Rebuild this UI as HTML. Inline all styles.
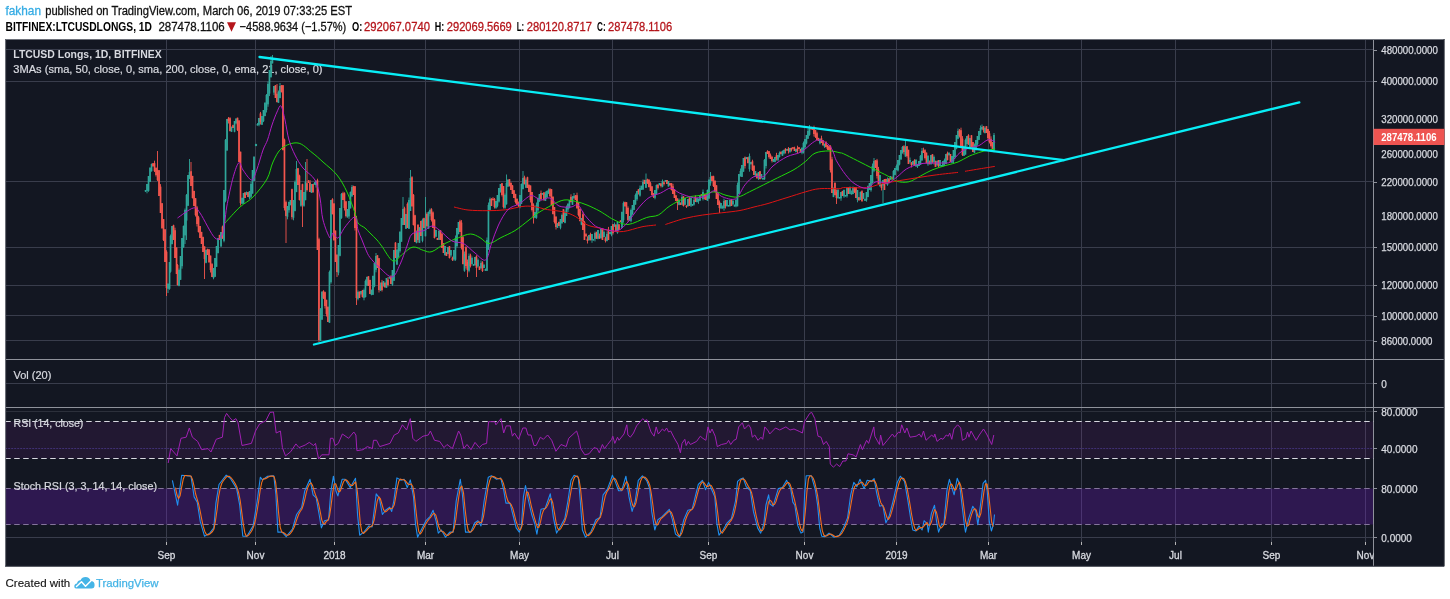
<!DOCTYPE html>
<html><head><meta charset="utf-8"><title>LTCUSD Longs</title>
<style>
html,body{margin:0;padding:0;background:#fff;}
body{width:1450px;height:599px;overflow:hidden;font-family:"Liberation Sans",sans-serif;}
svg{display:block;font-family:"Liberation Sans",sans-serif;filter:blur(0.4px);}
</style></head><body>
<svg width="1450" height="599" viewBox="0 0 1450 599">
<rect x="0" y="0" width="1450" height="599" fill="#fff"/>
<rect x="5.2" y="39.0" width="1439.2" height="527.5" fill="#131722"/>
<line x1="166.5" y1="39.0" x2="166.5" y2="542" stroke="#393d4c" stroke-width="1"/>
<line x1="166.5" y1="542" x2="166.5" y2="545" stroke="#b4b4b4" stroke-width="1"/>
<line x1="255.5" y1="39.0" x2="255.5" y2="542" stroke="#393d4c" stroke-width="1"/>
<line x1="255.5" y1="542" x2="255.5" y2="545" stroke="#b4b4b4" stroke-width="1"/>
<line x1="334.5" y1="39.0" x2="334.5" y2="542" stroke="#393d4c" stroke-width="1"/>
<line x1="334.5" y1="542" x2="334.5" y2="545" stroke="#b4b4b4" stroke-width="1"/>
<line x1="425.5" y1="39.0" x2="425.5" y2="542" stroke="#393d4c" stroke-width="1"/>
<line x1="425.5" y1="542" x2="425.5" y2="545" stroke="#b4b4b4" stroke-width="1"/>
<line x1="519.5" y1="39.0" x2="519.5" y2="542" stroke="#393d4c" stroke-width="1"/>
<line x1="519.5" y1="542" x2="519.5" y2="545" stroke="#b4b4b4" stroke-width="1"/>
<line x1="612.5" y1="39.0" x2="612.5" y2="542" stroke="#393d4c" stroke-width="1"/>
<line x1="612.5" y1="542" x2="612.5" y2="545" stroke="#b4b4b4" stroke-width="1"/>
<line x1="708.5" y1="39.0" x2="708.5" y2="542" stroke="#393d4c" stroke-width="1"/>
<line x1="708.5" y1="542" x2="708.5" y2="545" stroke="#b4b4b4" stroke-width="1"/>
<line x1="804.5" y1="39.0" x2="804.5" y2="542" stroke="#393d4c" stroke-width="1"/>
<line x1="804.5" y1="542" x2="804.5" y2="545" stroke="#b4b4b4" stroke-width="1"/>
<line x1="896.5" y1="39.0" x2="896.5" y2="542" stroke="#393d4c" stroke-width="1"/>
<line x1="896.5" y1="542" x2="896.5" y2="545" stroke="#b4b4b4" stroke-width="1"/>
<line x1="988.5" y1="39.0" x2="988.5" y2="542" stroke="#393d4c" stroke-width="1"/>
<line x1="988.5" y1="542" x2="988.5" y2="545" stroke="#b4b4b4" stroke-width="1"/>
<line x1="1081.5" y1="39.0" x2="1081.5" y2="542" stroke="#393d4c" stroke-width="1"/>
<line x1="1081.5" y1="542" x2="1081.5" y2="545" stroke="#b4b4b4" stroke-width="1"/>
<line x1="1175.5" y1="39.0" x2="1175.5" y2="542" stroke="#393d4c" stroke-width="1"/>
<line x1="1175.5" y1="542" x2="1175.5" y2="545" stroke="#b4b4b4" stroke-width="1"/>
<line x1="1271.5" y1="39.0" x2="1271.5" y2="542" stroke="#393d4c" stroke-width="1"/>
<line x1="1271.5" y1="542" x2="1271.5" y2="545" stroke="#b4b4b4" stroke-width="1"/>
<line x1="1365.5" y1="39.0" x2="1365.5" y2="542" stroke="#393d4c" stroke-width="1"/>
<line x1="1365.5" y1="542" x2="1365.5" y2="545" stroke="#b4b4b4" stroke-width="1"/>
<line x1="5.2" y1="49.5" x2="1373.5" y2="49.5" stroke="#393d4c" stroke-width="1"/>
<line x1="5.2" y1="81.5" x2="1373.5" y2="81.5" stroke="#393d4c" stroke-width="1"/>
<line x1="5.2" y1="181.5" x2="1373.5" y2="181.5" stroke="#393d4c" stroke-width="1"/>
<line x1="5.2" y1="247.5" x2="1373.5" y2="247.5" stroke="#393d4c" stroke-width="1"/>
<line x1="5.2" y1="285.5" x2="1373.5" y2="285.5" stroke="#393d4c" stroke-width="1"/>
<line x1="5.2" y1="315.5" x2="1373.5" y2="315.5" stroke="#393d4c" stroke-width="1"/>
<line x1="5.2" y1="340.5" x2="1373.5" y2="340.5" stroke="#393d4c" stroke-width="1"/>
<line x1="5.2" y1="383.5" x2="1373.5" y2="383.5" stroke="#393d4c" stroke-width="1"/>
<line x1="5.2" y1="537.5" x2="1373.5" y2="537.5" stroke="#393d4c" stroke-width="1"/>
<line x1="5.2" y1="411.5" x2="1373.5" y2="411.5" stroke="#2c303b" stroke-width="1"/>
<line x1="5.2" y1="448.5" x2="1373.5" y2="448.5" stroke="#34326c" stroke-width="1" stroke-dasharray="2 1"/>
<rect x="5.2" y="421.5" width="1368.3" height="37" fill="#9c27b0" fill-opacity="0.115"/>
<rect x="5.2" y="488.5" width="1368.3" height="36" fill="#7f1bda" fill-opacity="0.25"/>
<line x1="5.2" y1="359.5" x2="1444.4" y2="359.5" stroke="#8f929b" stroke-width="1"/>
<line x1="5.2" y1="407.5" x2="1444.4" y2="407.5" stroke="#8f929b" stroke-width="1"/>
<line x1="1373.5" y1="39.0" x2="1373.5" y2="566.5" stroke="#8f929b" stroke-width="1"/>
<line x1="5.2" y1="421.5" x2="1373.5" y2="421.5" stroke="#d8d8e0" stroke-width="1" stroke-dasharray="5.5 3.5"/>
<line x1="5.2" y1="458.5" x2="1373.5" y2="458.5" stroke="#d8d8e0" stroke-width="1" stroke-dasharray="5.5 3.5"/>
<line x1="5.2" y1="488.5" x2="1373.5" y2="488.5" stroke="#85759c" stroke-width="1" stroke-dasharray="5.5 3.5"/>
<line x1="5.2" y1="524.5" x2="1373.5" y2="524.5" stroke="#85759c" stroke-width="1" stroke-dasharray="5.5 3.5"/>
<path d="M5.6000000000000005 566.5V39.5H1444.4" fill="none" stroke="#6e717a" stroke-width="1"/>
<path d="M5.2 566.1H1444.0V39.0" fill="none" stroke="#2a2d38" stroke-width="0.8"/>
<text x="13.3" y="57.9" font-size="10.3" fill="#d8dae0" textLength="148.4" lengthAdjust="spacingAndGlyphs" font-weight="bold">LTCUSD Longs, 1D, BITFINEX</text>
<text x="13.3" y="73.4" font-size="10.3" fill="#d8dae0" textLength="309.2" lengthAdjust="spacingAndGlyphs" stroke="#d8dae0" stroke-width="0.2">3MAs (sma, 50, close, 0, sma, 200, close, 0, ema, 21, close, 0)</text>
<text x="13.5" y="379.2" font-size="10.3" fill="#d8dae0" textLength="37.9" lengthAdjust="spacingAndGlyphs" stroke="#d8dae0" stroke-width="0.2">Vol (20)</text>
<text x="13.5" y="426.6" font-size="10.3" fill="#d8dae0" textLength="69.9" lengthAdjust="spacingAndGlyphs" stroke="#d8dae0" stroke-width="0.2">RSI (14, close)</text>
<text x="13.5" y="490.1" font-size="10.3" fill="#d8dae0" textLength="143.5" lengthAdjust="spacingAndGlyphs" stroke="#d8dae0" stroke-width="0.2">Stoch RSI (3, 3, 14, 14, close)</text>
<path d="M145.5 190.0V192.0" stroke="#2fa69a" stroke-width="0.9"/>
<rect x="144.7" y="190.0" width="1.7" height="1.5" fill="#2fa69a"/>
<path d="M147.0 184.0V193.3" stroke="#2fa69a" stroke-width="0.9"/>
<rect x="146.2" y="184.0" width="1.7" height="6.8" fill="#2fa69a"/>
<path d="M148.5 176.0V191.8" stroke="#2fa69a" stroke-width="0.9"/>
<rect x="147.7" y="176.0" width="1.7" height="14.8" fill="#2fa69a"/>
<path d="M150.0 167.0V182.0" stroke="#2fa69a" stroke-width="0.9"/>
<rect x="149.2" y="168.0" width="1.7" height="14.0" fill="#2fa69a"/>
<path d="M151.5 163.5V171.7" stroke="#2fa69a" stroke-width="0.9"/>
<rect x="150.7" y="164.0" width="1.7" height="7.2" fill="#2fa69a"/>
<path d="M153.0 163.2V167.0" stroke="#f4564e" stroke-width="0.9"/>
<rect x="152.2" y="163.2" width="1.7" height="2.8" fill="#f4564e"/>
<path d="M154.5 160.7V172.0" stroke="#f4564e" stroke-width="0.9"/>
<rect x="153.7" y="163.2" width="1.7" height="7.8" fill="#f4564e"/>
<path d="M156.0 167.7V176.5" stroke="#f4564e" stroke-width="0.9"/>
<rect x="155.2" y="167.7" width="1.7" height="7.3" fill="#f4564e"/>
<path d="M157.5 151.0V181.0" stroke="#f4564e" stroke-width="0.9"/>
<rect x="156.7" y="170.1" width="1.7" height="9.9" fill="#f4564e"/>
<path d="M159.0 170.2V196.0" stroke="#f4564e" stroke-width="0.9"/>
<rect x="158.2" y="170.2" width="1.7" height="25.8" fill="#f4564e"/>
<path d="M160.5 184.1V213.0" stroke="#f4564e" stroke-width="0.9"/>
<rect x="159.7" y="186.6" width="1.7" height="26.4" fill="#f4564e"/>
<path d="M162.0 203.2V229.0" stroke="#f4564e" stroke-width="0.9"/>
<rect x="161.2" y="203.2" width="1.7" height="24.8" fill="#f4564e"/>
<path d="M163.5 219.1V241.0" stroke="#f4564e" stroke-width="0.9"/>
<rect x="162.7" y="219.1" width="1.7" height="20.9" fill="#f4564e"/>
<path d="M165.0 229.3V262.0" stroke="#f4564e" stroke-width="0.9"/>
<rect x="164.2" y="229.3" width="1.7" height="32.7" fill="#f4564e"/>
<path d="M166.5 250.2V296.0" stroke="#f4564e" stroke-width="0.9"/>
<rect x="165.7" y="251.7" width="1.7" height="36.3" fill="#f4564e"/>
<path d="M168.0 283.0V293.0" stroke="#2fa69a" stroke-width="0.9"/>
<rect x="167.2" y="284.0" width="1.7" height="4.8" fill="#2fa69a"/>
<path d="M169.5 262.0V289.8" stroke="#2fa69a" stroke-width="0.9"/>
<rect x="168.7" y="262.0" width="1.7" height="26.8" fill="#2fa69a"/>
<path d="M170.5 234.5V272.7" stroke="#2fa69a" stroke-width="0.9"/>
<rect x="169.7" y="236.0" width="1.7" height="35.7" fill="#2fa69a"/>
<path d="M172.0 226.0V244.5" stroke="#2fa69a" stroke-width="0.9"/>
<rect x="171.2" y="226.0" width="1.7" height="18.0" fill="#2fa69a"/>
<path d="M173.5 224.7V240.0" stroke="#f4564e" stroke-width="0.9"/>
<rect x="172.7" y="225.2" width="1.7" height="14.8" fill="#f4564e"/>
<path d="M175.0 227.7V258.0" stroke="#f4564e" stroke-width="0.9"/>
<rect x="174.2" y="230.2" width="1.7" height="27.8" fill="#f4564e"/>
<path d="M176.5 247.5V274.0" stroke="#f4564e" stroke-width="0.9"/>
<rect x="175.7" y="247.5" width="1.7" height="26.5" fill="#f4564e"/>
<path d="M177.5 264.0V285.5" stroke="#f4564e" stroke-width="0.9"/>
<rect x="176.7" y="265.0" width="1.7" height="20.0" fill="#f4564e"/>
<path d="M179.0 268.5V286.3" stroke="#2fa69a" stroke-width="0.9"/>
<rect x="178.2" y="270.0" width="1.7" height="15.8" fill="#2fa69a"/>
<path d="M180.5 256.0V279.8" stroke="#2fa69a" stroke-width="0.9"/>
<rect x="179.7" y="256.0" width="1.7" height="23.8" fill="#2fa69a"/>
<path d="M182.0 238.0V268.7" stroke="#2fa69a" stroke-width="0.9"/>
<rect x="181.2" y="238.0" width="1.7" height="28.2" fill="#2fa69a"/>
<path d="M183.5 225.5V247.8" stroke="#2fa69a" stroke-width="0.9"/>
<rect x="182.7" y="226.0" width="1.7" height="21.3" fill="#2fa69a"/>
<path d="M185.0 208.5V244.0" stroke="#2fa69a" stroke-width="0.9"/>
<rect x="184.2" y="210.0" width="1.7" height="25.4" fill="#2fa69a"/>
<path d="M186.5 194.0V240.0" stroke="#2fa69a" stroke-width="0.9"/>
<rect x="185.7" y="195.0" width="1.7" height="25.6" fill="#2fa69a"/>
<path d="M188.0 175.0V205.8" stroke="#2fa69a" stroke-width="0.9"/>
<rect x="187.2" y="175.0" width="1.7" height="30.8" fill="#2fa69a"/>
<path d="M189.5 159.0V179.1" stroke="#2fa69a" stroke-width="0.9"/>
<rect x="188.7" y="172.0" width="1.7" height="6.6" fill="#2fa69a"/>
<path d="M191.0 162.0V186.0" stroke="#f4564e" stroke-width="0.9"/>
<rect x="190.2" y="171.2" width="1.7" height="14.8" fill="#f4564e"/>
<path d="M192.5 175.9V198.5" stroke="#f4564e" stroke-width="0.9"/>
<rect x="191.7" y="175.9" width="1.7" height="22.1" fill="#f4564e"/>
<path d="M194.0 190.9V206.0" stroke="#f4564e" stroke-width="0.9"/>
<rect x="193.2" y="190.9" width="1.7" height="15.1" fill="#f4564e"/>
<path d="M195.5 198.2V216.5" stroke="#f4564e" stroke-width="0.9"/>
<rect x="194.7" y="198.2" width="1.7" height="16.8" fill="#f4564e"/>
<path d="M197.0 205.9V226.5" stroke="#f4564e" stroke-width="0.9"/>
<rect x="196.2" y="207.4" width="1.7" height="16.6" fill="#f4564e"/>
<path d="M198.5 215.8V232.5" stroke="#f4564e" stroke-width="0.9"/>
<rect x="197.7" y="217.3" width="1.7" height="14.7" fill="#f4564e"/>
<path d="M200.0 226.0V238.0" stroke="#f4564e" stroke-width="0.9"/>
<rect x="199.2" y="226.0" width="1.7" height="12.0" fill="#f4564e"/>
<path d="M201.5 231.9V244.0" stroke="#f4564e" stroke-width="0.9"/>
<rect x="200.7" y="231.9" width="1.7" height="12.1" fill="#f4564e"/>
<path d="M203.0 236.6V252.0" stroke="#f4564e" stroke-width="0.9"/>
<rect x="202.2" y="237.1" width="1.7" height="14.9" fill="#f4564e"/>
<path d="M204.5 246.4V279.0" stroke="#f4564e" stroke-width="0.9"/>
<rect x="203.7" y="246.4" width="1.7" height="12.6" fill="#f4564e"/>
<path d="M206.0 249.5V263.3" stroke="#2fa69a" stroke-width="0.9"/>
<rect x="205.2" y="250.0" width="1.7" height="12.8" fill="#2fa69a"/>
<path d="M207.5 248.7V255.0" stroke="#f4564e" stroke-width="0.9"/>
<rect x="206.7" y="249.2" width="1.7" height="5.8" fill="#f4564e"/>
<path d="M209.0 249.0V263.0" stroke="#f4564e" stroke-width="0.9"/>
<rect x="208.2" y="249.5" width="1.7" height="12.5" fill="#f4564e"/>
<path d="M210.5 255.6V272.5" stroke="#f4564e" stroke-width="0.9"/>
<rect x="209.7" y="255.6" width="1.7" height="14.4" fill="#f4564e"/>
<path d="M212.0 263.1V277.0" stroke="#f4564e" stroke-width="0.9"/>
<rect x="211.2" y="264.1" width="1.7" height="12.9" fill="#f4564e"/>
<path d="M213.5 268.0V279.3" stroke="#2fa69a" stroke-width="0.9"/>
<rect x="212.7" y="268.0" width="1.7" height="9.8" fill="#2fa69a"/>
<path d="M215.0 258.0V276.8" stroke="#2fa69a" stroke-width="0.9"/>
<rect x="214.2" y="258.0" width="1.7" height="18.8" fill="#2fa69a"/>
<path d="M216.5 246.0V266.8" stroke="#2fa69a" stroke-width="0.9"/>
<rect x="215.7" y="246.0" width="1.7" height="20.8" fill="#2fa69a"/>
<path d="M218.0 238.0V253.5" stroke="#2fa69a" stroke-width="0.9"/>
<rect x="217.2" y="238.0" width="1.7" height="15.0" fill="#2fa69a"/>
<path d="M219.5 234.9V240.0" stroke="#f4564e" stroke-width="0.9"/>
<rect x="218.7" y="234.9" width="1.7" height="5.1" fill="#f4564e"/>
<path d="M221.0 232.0V246.9" stroke="#2fa69a" stroke-width="0.9"/>
<rect x="220.2" y="232.0" width="1.7" height="14.4" fill="#2fa69a"/>
<path d="M222.5 225.6V239.0" stroke="#f4564e" stroke-width="0.9"/>
<rect x="221.7" y="226.6" width="1.7" height="11.4" fill="#f4564e"/>
<path d="M224.0 190.0V242.3" stroke="#2fa69a" stroke-width="0.9"/>
<rect x="223.2" y="190.0" width="1.7" height="50.8" fill="#2fa69a"/>
<path d="M225.5 139.0V202.3" stroke="#2fa69a" stroke-width="0.9"/>
<rect x="224.7" y="140.0" width="1.7" height="60.8" fill="#2fa69a"/>
<path d="M227.0 119.0V150.9" stroke="#2fa69a" stroke-width="0.9"/>
<rect x="226.2" y="119.0" width="1.7" height="31.4" fill="#2fa69a"/>
<path d="M228.5 117.0V123.5" stroke="#f4564e" stroke-width="0.9"/>
<rect x="227.7" y="118.2" width="1.7" height="2.8" fill="#f4564e"/>
<path d="M230.0 117.2V131.5" stroke="#f4564e" stroke-width="0.9"/>
<rect x="229.2" y="118.2" width="1.7" height="12.8" fill="#f4564e"/>
<path d="M231.5 126.5V131.8" stroke="#2fa69a" stroke-width="0.9"/>
<rect x="230.7" y="127.0" width="1.7" height="4.8" fill="#2fa69a"/>
<path d="M233.0 124.7V128.0" stroke="#f4564e" stroke-width="0.9"/>
<rect x="232.2" y="125.2" width="1.7" height="2.8" fill="#f4564e"/>
<path d="M234.5 121.0V132.3" stroke="#2fa69a" stroke-width="0.9"/>
<rect x="233.7" y="121.0" width="1.7" height="10.8" fill="#2fa69a"/>
<path d="M236.0 118.5V124.3" stroke="#2fa69a" stroke-width="0.9"/>
<rect x="235.2" y="118.5" width="1.7" height="4.8" fill="#2fa69a"/>
<path d="M237.5 117.7V131.0" stroke="#f4564e" stroke-width="0.9"/>
<rect x="236.7" y="117.7" width="1.7" height="12.3" fill="#f4564e"/>
<path d="M239.0 120.4V162.0" stroke="#f4564e" stroke-width="0.9"/>
<rect x="238.2" y="120.4" width="1.7" height="41.6" fill="#f4564e"/>
<path d="M240.5 151.7V205.5" stroke="#f4564e" stroke-width="0.9"/>
<rect x="239.7" y="151.7" width="1.7" height="51.3" fill="#f4564e"/>
<path d="M242.0 197.5V203.8" stroke="#2fa69a" stroke-width="0.9"/>
<rect x="241.2" y="198.0" width="1.7" height="5.8" fill="#2fa69a"/>
<path d="M243.5 193.0V203.9" stroke="#2fa69a" stroke-width="0.9"/>
<rect x="242.7" y="193.0" width="1.7" height="9.9" fill="#2fa69a"/>
<path d="M245.0 192.4V198.0" stroke="#f4564e" stroke-width="0.9"/>
<rect x="244.2" y="192.4" width="1.7" height="5.6" fill="#f4564e"/>
<path d="M246.5 191.5V195.1" stroke="#2fa69a" stroke-width="0.9"/>
<rect x="245.7" y="192.0" width="1.7" height="2.6" fill="#2fa69a"/>
<path d="M248.0 192.1V197.0" stroke="#f4564e" stroke-width="0.9"/>
<rect x="247.2" y="192.1" width="1.7" height="4.9" fill="#f4564e"/>
<path d="M249.5 191.0V199.3" stroke="#2fa69a" stroke-width="0.9"/>
<rect x="248.7" y="191.0" width="1.7" height="6.8" fill="#2fa69a"/>
<path d="M251.0 181.5V198.2" stroke="#2fa69a" stroke-width="0.9"/>
<rect x="250.2" y="184.0" width="1.7" height="12.7" fill="#2fa69a"/>
<path d="M252.5 170.0V193.6" stroke="#2fa69a" stroke-width="0.9"/>
<rect x="251.7" y="170.0" width="1.7" height="23.6" fill="#2fa69a"/>
<path d="M254.0 156.0V180.9" stroke="#2fa69a" stroke-width="0.9"/>
<rect x="253.2" y="157.0" width="1.7" height="23.9" fill="#2fa69a"/>
<path d="M257.5 123.0V125.5" stroke="#2fa69a" stroke-width="0.9"/>
<rect x="256.6" y="124.0" width="1.7" height="1.5" fill="#2fa69a"/>
<path d="M259.0 118.0V126.3" stroke="#2fa69a" stroke-width="0.9"/>
<rect x="258.1" y="118.0" width="1.7" height="6.8" fill="#2fa69a"/>
<path d="M260.5 111.9V124.5" stroke="#f4564e" stroke-width="0.9"/>
<rect x="259.6" y="113.4" width="1.7" height="8.6" fill="#f4564e"/>
<path d="M262.0 116.0V124.8" stroke="#2fa69a" stroke-width="0.9"/>
<rect x="261.1" y="116.0" width="1.7" height="8.8" fill="#2fa69a"/>
<path d="M263.5 110.0V122.1" stroke="#2fa69a" stroke-width="0.9"/>
<rect x="262.6" y="110.0" width="1.7" height="11.1" fill="#2fa69a"/>
<path d="M265.0 102.0V116.1" stroke="#2fa69a" stroke-width="0.9"/>
<rect x="264.1" y="103.0" width="1.7" height="13.1" fill="#2fa69a"/>
<path d="M266.5 94.0V112.5" stroke="#2fa69a" stroke-width="0.9"/>
<rect x="265.6" y="95.0" width="1.7" height="15.0" fill="#2fa69a"/>
<path d="M268.0 81.5V106.8" stroke="#2fa69a" stroke-width="0.9"/>
<rect x="267.1" y="84.0" width="1.7" height="20.3" fill="#2fa69a"/>
<path d="M269.5 70.0V96.1" stroke="#2fa69a" stroke-width="0.9"/>
<rect x="268.6" y="70.0" width="1.7" height="23.6" fill="#2fa69a"/>
<path d="M271.0 56.0V77.3" stroke="#2fa69a" stroke-width="0.9"/>
<rect x="270.1" y="61.0" width="1.7" height="16.3" fill="#2fa69a"/>
<path d="M272.5 55.0V63.4" stroke="#2fa69a" stroke-width="0.9"/>
<rect x="271.6" y="58.5" width="1.7" height="4.9" fill="#2fa69a"/>
<path d="M274.0 86.0V95.1" stroke="#2fa69a" stroke-width="0.9"/>
<rect x="273.1" y="86.0" width="1.7" height="6.6" fill="#2fa69a"/>
<path d="M275.5 85.2V98.0" stroke="#f4564e" stroke-width="0.9"/>
<rect x="274.6" y="85.2" width="1.7" height="12.8" fill="#f4564e"/>
<path d="M277.0 84.0V102.5" stroke="#f4564e" stroke-width="0.9"/>
<rect x="276.1" y="93.7" width="1.7" height="8.3" fill="#f4564e"/>
<path d="M278.5 90.5V102.8" stroke="#2fa69a" stroke-width="0.9"/>
<rect x="277.6" y="92.0" width="1.7" height="10.8" fill="#2fa69a"/>
<path d="M280.0 83.0V98.1" stroke="#2fa69a" stroke-width="0.9"/>
<rect x="279.1" y="86.0" width="1.7" height="12.1" fill="#2fa69a"/>
<path d="M281.5 85.2V92.5" stroke="#f4564e" stroke-width="0.9"/>
<rect x="280.6" y="85.2" width="1.7" height="6.8" fill="#f4564e"/>
<path d="M283.0 85.2V150.5" stroke="#f4564e" stroke-width="0.9"/>
<rect x="282.1" y="85.2" width="1.7" height="64.8" fill="#f4564e"/>
<path d="M284.5 138.6V210.5" stroke="#f4564e" stroke-width="0.9"/>
<rect x="283.6" y="139.6" width="1.7" height="68.4" fill="#f4564e"/>
<path d="M286.0 200.6V243.0" stroke="#f4564e" stroke-width="0.9"/>
<rect x="285.1" y="202.1" width="1.7" height="13.9" fill="#f4564e"/>
<path d="M287.5 206.0V219.3" stroke="#2fa69a" stroke-width="0.9"/>
<rect x="286.6" y="206.0" width="1.7" height="10.8" fill="#2fa69a"/>
<path d="M289.0 201.5V212.7" stroke="#2fa69a" stroke-width="0.9"/>
<rect x="288.1" y="202.0" width="1.7" height="8.2" fill="#2fa69a"/>
<path d="M290.5 200.0V205.4" stroke="#2fa69a" stroke-width="0.9"/>
<rect x="289.6" y="200.0" width="1.7" height="4.9" fill="#2fa69a"/>
<path d="M292.0 188.7V219.5" stroke="#f4564e" stroke-width="0.9"/>
<rect x="291.1" y="189.2" width="1.7" height="27.8" fill="#f4564e"/>
<path d="M293.5 200.0V220.3" stroke="#2fa69a" stroke-width="0.9"/>
<rect x="292.6" y="200.0" width="1.7" height="17.8" fill="#2fa69a"/>
<path d="M295.0 180.5V211.4" stroke="#2fa69a" stroke-width="0.9"/>
<rect x="294.1" y="182.0" width="1.7" height="28.9" fill="#2fa69a"/>
<path d="M296.5 161.0V192.1" stroke="#2fa69a" stroke-width="0.9"/>
<rect x="295.6" y="169.0" width="1.7" height="23.1" fill="#2fa69a"/>
<path d="M298.0 168.2V185.0" stroke="#f4564e" stroke-width="0.9"/>
<rect x="297.1" y="168.2" width="1.7" height="16.8" fill="#f4564e"/>
<path d="M299.5 174.7V200.5" stroke="#f4564e" stroke-width="0.9"/>
<rect x="298.6" y="175.7" width="1.7" height="24.3" fill="#f4564e"/>
<path d="M301.0 190.0V206.8" stroke="#2fa69a" stroke-width="0.9"/>
<rect x="300.1" y="190.0" width="1.7" height="15.8" fill="#2fa69a"/>
<path d="M302.5 183.7V227.0" stroke="#f4564e" stroke-width="0.9"/>
<rect x="301.6" y="184.2" width="1.7" height="20.8" fill="#f4564e"/>
<path d="M304.0 192.0V206.8" stroke="#2fa69a" stroke-width="0.9"/>
<rect x="303.1" y="192.0" width="1.7" height="13.8" fill="#2fa69a"/>
<path d="M305.5 162.0V200.2" stroke="#2fa69a" stroke-width="0.9"/>
<rect x="304.6" y="182.0" width="1.7" height="18.2" fill="#2fa69a"/>
<path d="M307.0 159.0V191.5" stroke="#f4564e" stroke-width="0.9"/>
<rect x="306.1" y="183.2" width="1.7" height="6.8" fill="#f4564e"/>
<path d="M308.5 180.0V183.0" stroke="#f4564e" stroke-width="0.9"/>
<rect x="307.6" y="181.5" width="1.7" height="1.5" fill="#f4564e"/>
<path d="M310.0 180.0V192.0" stroke="#f4564e" stroke-width="0.9"/>
<rect x="309.1" y="182.5" width="1.7" height="9.5" fill="#f4564e"/>
<path d="M311.5 184.0V192.8" stroke="#2fa69a" stroke-width="0.9"/>
<rect x="310.6" y="184.0" width="1.7" height="8.8" fill="#2fa69a"/>
<path d="M313.0 184.0V193.0" stroke="#f4564e" stroke-width="0.9"/>
<rect x="312.1" y="184.0" width="1.7" height="8.0" fill="#f4564e"/>
<path d="M314.5 182.0V184.6" stroke="#2fa69a" stroke-width="0.9"/>
<rect x="313.6" y="183.0" width="1.7" height="1.6" fill="#2fa69a"/>
<path d="M316.0 180.5V187.6" stroke="#2fa69a" stroke-width="0.9"/>
<rect x="315.1" y="181.0" width="1.7" height="4.1" fill="#2fa69a"/>
<path d="M317.5 178.7V250.0" stroke="#f4564e" stroke-width="0.9"/>
<rect x="316.6" y="180.2" width="1.7" height="69.8" fill="#f4564e"/>
<path d="M319.0 237.7V342.0" stroke="#f4564e" stroke-width="0.9"/>
<rect x="318.1" y="239.2" width="1.7" height="100.8" fill="#f4564e"/>
<path d="M320.5 308.0V341.0" stroke="#2fa69a" stroke-width="0.9"/>
<rect x="319.6" y="309.0" width="1.7" height="31.8" fill="#2fa69a"/>
<path d="M322.0 291.0V319.7" stroke="#2fa69a" stroke-width="0.9"/>
<rect x="321.1" y="292.0" width="1.7" height="27.7" fill="#2fa69a"/>
<path d="M323.5 290.2V299.0" stroke="#f4564e" stroke-width="0.9"/>
<rect x="322.6" y="291.2" width="1.7" height="6.8" fill="#f4564e"/>
<path d="M325.0 291.6V308.5" stroke="#f4564e" stroke-width="0.9"/>
<rect x="324.1" y="292.1" width="1.7" height="13.9" fill="#f4564e"/>
<path d="M326.5 299.8V316.5" stroke="#f4564e" stroke-width="0.9"/>
<rect x="325.6" y="299.8" width="1.7" height="14.2" fill="#f4564e"/>
<path d="M328.0 306.7V322.0" stroke="#f4564e" stroke-width="0.9"/>
<rect x="327.1" y="306.7" width="1.7" height="15.3" fill="#f4564e"/>
<path d="M329.5 270.5V322.8" stroke="#2fa69a" stroke-width="0.9"/>
<rect x="328.6" y="272.0" width="1.7" height="50.8" fill="#2fa69a"/>
<path d="M331.0 200.0V283.7" stroke="#2fa69a" stroke-width="0.9"/>
<rect x="330.1" y="200.0" width="1.7" height="82.2" fill="#2fa69a"/>
<path d="M332.5 198.2V214.5" stroke="#f4564e" stroke-width="0.9"/>
<rect x="331.6" y="199.2" width="1.7" height="14.8" fill="#f4564e"/>
<path d="M334.0 203.4V241.0" stroke="#f4564e" stroke-width="0.9"/>
<rect x="333.1" y="203.4" width="1.7" height="36.6" fill="#f4564e"/>
<path d="M335.5 230.6V262.0" stroke="#f4564e" stroke-width="0.9"/>
<rect x="334.6" y="230.6" width="1.7" height="31.4" fill="#f4564e"/>
<path d="M337.0 254.6V277.0" stroke="#f4564e" stroke-width="0.9"/>
<rect x="336.1" y="254.6" width="1.7" height="17.4" fill="#f4564e"/>
<path d="M338.5 245.0V275.3" stroke="#2fa69a" stroke-width="0.9"/>
<rect x="337.6" y="245.0" width="1.7" height="27.8" fill="#2fa69a"/>
<path d="M340.0 208.0V256.3" stroke="#2fa69a" stroke-width="0.9"/>
<rect x="339.1" y="208.0" width="1.7" height="47.8" fill="#2fa69a"/>
<path d="M341.5 193.0V218.9" stroke="#2fa69a" stroke-width="0.9"/>
<rect x="340.6" y="194.0" width="1.7" height="23.9" fill="#2fa69a"/>
<path d="M343.0 191.7V200.0" stroke="#f4564e" stroke-width="0.9"/>
<rect x="342.1" y="193.2" width="1.7" height="6.8" fill="#f4564e"/>
<path d="M344.5 192.3V210.5" stroke="#f4564e" stroke-width="0.9"/>
<rect x="343.6" y="193.3" width="1.7" height="14.7" fill="#f4564e"/>
<path d="M346.0 201.3V217.5" stroke="#f4564e" stroke-width="0.9"/>
<rect x="345.1" y="201.3" width="1.7" height="14.7" fill="#f4564e"/>
<path d="M347.5 209.0V217.8" stroke="#2fa69a" stroke-width="0.9"/>
<rect x="346.6" y="209.0" width="1.7" height="7.8" fill="#2fa69a"/>
<path d="M349.0 201.0V218.9" stroke="#2fa69a" stroke-width="0.9"/>
<rect x="348.1" y="201.0" width="1.7" height="15.4" fill="#2fa69a"/>
<path d="M350.5 191.5V208.4" stroke="#2fa69a" stroke-width="0.9"/>
<rect x="349.6" y="192.0" width="1.7" height="16.4" fill="#2fa69a"/>
<path d="M352.0 185.0V196.5" stroke="#2fa69a" stroke-width="0.9"/>
<rect x="351.1" y="187.0" width="1.7" height="9.5" fill="#2fa69a"/>
<path d="M353.5 185.7V195.0" stroke="#f4564e" stroke-width="0.9"/>
<rect x="352.6" y="186.2" width="1.7" height="8.8" fill="#f4564e"/>
<path d="M355.0 186.2V230.5" stroke="#f4564e" stroke-width="0.9"/>
<rect x="354.1" y="186.2" width="1.7" height="41.8" fill="#f4564e"/>
<path d="M356.5 216.0V305.0" stroke="#f4564e" stroke-width="0.9"/>
<rect x="355.6" y="218.5" width="1.7" height="79.5" fill="#f4564e"/>
<path d="M358.0 290.5V300.3" stroke="#2fa69a" stroke-width="0.9"/>
<rect x="357.1" y="292.0" width="1.7" height="6.8" fill="#2fa69a"/>
<path d="M359.5 291.6V298.0" stroke="#f4564e" stroke-width="0.9"/>
<rect x="358.6" y="291.6" width="1.7" height="6.4" fill="#f4564e"/>
<path d="M361.0 291.0V295.3" stroke="#2fa69a" stroke-width="0.9"/>
<rect x="360.1" y="291.0" width="1.7" height="2.8" fill="#2fa69a"/>
<path d="M362.5 289.9V297.5" stroke="#f4564e" stroke-width="0.9"/>
<rect x="361.6" y="290.4" width="1.7" height="6.6" fill="#f4564e"/>
<path d="M364.0 288.5V300.3" stroke="#2fa69a" stroke-width="0.9"/>
<rect x="363.1" y="290.0" width="1.7" height="7.8" fill="#2fa69a"/>
<path d="M365.5 279.5V297.5" stroke="#2fa69a" stroke-width="0.9"/>
<rect x="364.6" y="281.0" width="1.7" height="16.0" fill="#2fa69a"/>
<path d="M367.0 276.5V285.8" stroke="#2fa69a" stroke-width="0.9"/>
<rect x="366.1" y="277.0" width="1.7" height="8.8" fill="#2fa69a"/>
<path d="M368.5 276.2V286.0" stroke="#f4564e" stroke-width="0.9"/>
<rect x="367.6" y="276.2" width="1.7" height="9.8" fill="#f4564e"/>
<path d="M370.0 279.9V294.0" stroke="#f4564e" stroke-width="0.9"/>
<rect x="369.1" y="279.9" width="1.7" height="14.1" fill="#f4564e"/>
<path d="M371.5 289.5V295.3" stroke="#2fa69a" stroke-width="0.9"/>
<rect x="370.6" y="290.0" width="1.7" height="4.8" fill="#2fa69a"/>
<path d="M373.0 275.5V294.8" stroke="#2fa69a" stroke-width="0.9"/>
<rect x="372.1" y="276.0" width="1.7" height="18.8" fill="#2fa69a"/>
<path d="M374.5 263.0V287.2" stroke="#2fa69a" stroke-width="0.9"/>
<rect x="373.6" y="263.0" width="1.7" height="23.2" fill="#2fa69a"/>
<path d="M376.0 253.0V272.3" stroke="#2fa69a" stroke-width="0.9"/>
<rect x="375.1" y="256.0" width="1.7" height="13.8" fill="#2fa69a"/>
<path d="M377.5 255.2V268.0" stroke="#f4564e" stroke-width="0.9"/>
<rect x="376.6" y="255.2" width="1.7" height="12.8" fill="#f4564e"/>
<path d="M379.0 258.2V292.5" stroke="#f4564e" stroke-width="0.9"/>
<rect x="378.1" y="258.2" width="1.7" height="31.8" fill="#f4564e"/>
<path d="M380.5 282.5V290.8" stroke="#2fa69a" stroke-width="0.9"/>
<rect x="379.6" y="285.0" width="1.7" height="5.8" fill="#2fa69a"/>
<path d="M382.0 279.9V291.5" stroke="#f4564e" stroke-width="0.9"/>
<rect x="381.1" y="282.4" width="1.7" height="7.6" fill="#f4564e"/>
<path d="M383.5 281.0V286.6" stroke="#2fa69a" stroke-width="0.9"/>
<rect x="382.6" y="281.0" width="1.7" height="5.1" fill="#2fa69a"/>
<path d="M385.0 282.0V288.0" stroke="#f4564e" stroke-width="0.9"/>
<rect x="384.1" y="283.0" width="1.7" height="4.0" fill="#f4564e"/>
<path d="M386.5 278.0V287.8" stroke="#2fa69a" stroke-width="0.9"/>
<rect x="385.6" y="278.0" width="1.7" height="9.8" fill="#2fa69a"/>
<path d="M388.0 277.1V286.5" stroke="#f4564e" stroke-width="0.9"/>
<rect x="387.1" y="279.6" width="1.7" height="5.4" fill="#f4564e"/>
<path d="M389.5 277.0V278.5" stroke="#2fa69a" stroke-width="0.9"/>
<rect x="388.6" y="277.0" width="1.7" height="1.5" fill="#2fa69a"/>
<path d="M391.0 275.1V284.0" stroke="#f4564e" stroke-width="0.9"/>
<rect x="390.1" y="276.6" width="1.7" height="7.4" fill="#f4564e"/>
<path d="M392.5 270.0V285.8" stroke="#2fa69a" stroke-width="0.9"/>
<rect x="391.6" y="270.0" width="1.7" height="14.8" fill="#2fa69a"/>
<path d="M394.0 250.0V280.8" stroke="#2fa69a" stroke-width="0.9"/>
<rect x="393.1" y="250.0" width="1.7" height="30.8" fill="#2fa69a"/>
<path d="M395.5 242.1V258.0" stroke="#f4564e" stroke-width="0.9"/>
<rect x="394.6" y="242.6" width="1.7" height="15.4" fill="#f4564e"/>
<path d="M397.0 249.0V265.0" stroke="#2fa69a" stroke-width="0.9"/>
<rect x="396.1" y="250.0" width="1.7" height="14.5" fill="#2fa69a"/>
<path d="M398.5 243.0V257.8" stroke="#2fa69a" stroke-width="0.9"/>
<rect x="397.6" y="243.0" width="1.7" height="13.8" fill="#2fa69a"/>
<path d="M400.0 231.0V252.7" stroke="#2fa69a" stroke-width="0.9"/>
<rect x="399.1" y="232.0" width="1.7" height="19.2" fill="#2fa69a"/>
<path d="M401.5 218.0V241.7" stroke="#2fa69a" stroke-width="0.9"/>
<rect x="400.6" y="218.0" width="1.7" height="23.7" fill="#2fa69a"/>
<path d="M403.0 197.0V225.0" stroke="#2fa69a" stroke-width="0.9"/>
<rect x="402.1" y="209.0" width="1.7" height="16.0" fill="#2fa69a"/>
<path d="M404.5 206.7V225.0" stroke="#f4564e" stroke-width="0.9"/>
<rect x="403.6" y="208.2" width="1.7" height="16.8" fill="#f4564e"/>
<path d="M406.0 214.0V228.8" stroke="#2fa69a" stroke-width="0.9"/>
<rect x="405.1" y="214.0" width="1.7" height="14.8" fill="#2fa69a"/>
<path d="M407.5 202.4V228.0" stroke="#f4564e" stroke-width="0.9"/>
<rect x="406.6" y="203.9" width="1.7" height="24.1" fill="#f4564e"/>
<path d="M409.0 197.5V228.8" stroke="#2fa69a" stroke-width="0.9"/>
<rect x="408.1" y="200.0" width="1.7" height="28.8" fill="#2fa69a"/>
<path d="M410.5 170.0V211.0" stroke="#2fa69a" stroke-width="0.9"/>
<rect x="409.6" y="178.0" width="1.7" height="33.0" fill="#2fa69a"/>
<path d="M412.0 176.2V207.0" stroke="#f4564e" stroke-width="0.9"/>
<rect x="411.1" y="177.2" width="1.7" height="28.8" fill="#f4564e"/>
<path d="M413.5 194.0V225.5" stroke="#f4564e" stroke-width="0.9"/>
<rect x="412.6" y="195.0" width="1.7" height="30.0" fill="#f4564e"/>
<path d="M415.0 214.8V242.0" stroke="#f4564e" stroke-width="0.9"/>
<rect x="414.1" y="215.3" width="1.7" height="26.7" fill="#f4564e"/>
<path d="M416.5 230.5V243.3" stroke="#2fa69a" stroke-width="0.9"/>
<rect x="415.6" y="232.0" width="1.7" height="10.8" fill="#2fa69a"/>
<path d="M418.0 224.0V242.5" stroke="#f4564e" stroke-width="0.9"/>
<rect x="417.1" y="225.0" width="1.7" height="15.0" fill="#f4564e"/>
<path d="M419.5 227.0V242.8" stroke="#2fa69a" stroke-width="0.9"/>
<rect x="418.6" y="228.0" width="1.7" height="14.8" fill="#2fa69a"/>
<path d="M421.0 220.9V236.0" stroke="#f4564e" stroke-width="0.9"/>
<rect x="420.1" y="220.9" width="1.7" height="15.1" fill="#f4564e"/>
<path d="M422.5 218.5V242.3" stroke="#2fa69a" stroke-width="0.9"/>
<rect x="421.6" y="220.0" width="1.7" height="20.8" fill="#2fa69a"/>
<path d="M424.0 217.7V228.0" stroke="#f4564e" stroke-width="0.9"/>
<rect x="423.1" y="218.2" width="1.7" height="9.8" fill="#f4564e"/>
<path d="M425.5 197.0V236.3" stroke="#2fa69a" stroke-width="0.9"/>
<rect x="424.6" y="219.0" width="1.7" height="17.3" fill="#2fa69a"/>
<path d="M427.0 212.3V227.5" stroke="#f4564e" stroke-width="0.9"/>
<rect x="426.1" y="213.8" width="1.7" height="12.2" fill="#f4564e"/>
<path d="M428.5 211.5V228.8" stroke="#2fa69a" stroke-width="0.9"/>
<rect x="427.6" y="212.0" width="1.7" height="16.8" fill="#2fa69a"/>
<path d="M430.0 208.5V216.3" stroke="#2fa69a" stroke-width="0.9"/>
<rect x="429.1" y="210.0" width="1.7" height="3.8" fill="#2fa69a"/>
<path d="M431.5 208.2V221.5" stroke="#f4564e" stroke-width="0.9"/>
<rect x="430.6" y="209.2" width="1.7" height="10.8" fill="#f4564e"/>
<path d="M433.0 211.4V228.0" stroke="#f4564e" stroke-width="0.9"/>
<rect x="432.1" y="212.4" width="1.7" height="15.6" fill="#f4564e"/>
<path d="M434.5 219.5V238.5" stroke="#f4564e" stroke-width="0.9"/>
<rect x="433.6" y="219.5" width="1.7" height="18.5" fill="#f4564e"/>
<path d="M436.0 230.0V237.1" stroke="#2fa69a" stroke-width="0.9"/>
<rect x="435.1" y="230.0" width="1.7" height="6.6" fill="#2fa69a"/>
<path d="M437.5 238.0V240.0" stroke="#f4564e" stroke-width="0.9"/>
<rect x="436.6" y="238.0" width="1.7" height="2.0" fill="#f4564e"/>
<path d="M439.0 230.0V239.8" stroke="#2fa69a" stroke-width="0.9"/>
<rect x="438.1" y="231.0" width="1.7" height="8.8" fill="#2fa69a"/>
<path d="M440.5 230.2V240.0" stroke="#f4564e" stroke-width="0.9"/>
<rect x="439.6" y="230.2" width="1.7" height="9.8" fill="#f4564e"/>
<path d="M442.0 233.5V248.0" stroke="#f4564e" stroke-width="0.9"/>
<rect x="441.1" y="233.5" width="1.7" height="14.5" fill="#f4564e"/>
<path d="M443.5 243.1V253.0" stroke="#f4564e" stroke-width="0.9"/>
<rect x="442.6" y="243.6" width="1.7" height="9.4" fill="#f4564e"/>
<path d="M445.0 246.0V255.3" stroke="#2fa69a" stroke-width="0.9"/>
<rect x="444.1" y="246.0" width="1.7" height="9.3" fill="#2fa69a"/>
<path d="M446.5 252.3V256.0" stroke="#f4564e" stroke-width="0.9"/>
<rect x="445.6" y="252.3" width="1.7" height="3.7" fill="#f4564e"/>
<path d="M448.0 247.0V254.1" stroke="#2fa69a" stroke-width="0.9"/>
<rect x="447.1" y="247.0" width="1.7" height="7.1" fill="#2fa69a"/>
<path d="M449.5 246.2V258.5" stroke="#f4564e" stroke-width="0.9"/>
<rect x="448.6" y="246.2" width="1.7" height="11.8" fill="#f4564e"/>
<path d="M451.0 250.0V256.9" stroke="#2fa69a" stroke-width="0.9"/>
<rect x="450.1" y="250.0" width="1.7" height="5.4" fill="#2fa69a"/>
<path d="M452.5 256.6V261.0" stroke="#f4564e" stroke-width="0.9"/>
<rect x="451.6" y="257.6" width="1.7" height="2.4" fill="#f4564e"/>
<path d="M454.0 250.0V260.9" stroke="#2fa69a" stroke-width="0.9"/>
<rect x="453.1" y="250.0" width="1.7" height="9.4" fill="#2fa69a"/>
<path d="M455.5 235.5V260.8" stroke="#2fa69a" stroke-width="0.9"/>
<rect x="454.6" y="238.0" width="1.7" height="21.8" fill="#2fa69a"/>
<path d="M457.0 228.0V247.5" stroke="#2fa69a" stroke-width="0.9"/>
<rect x="456.1" y="228.0" width="1.7" height="18.0" fill="#2fa69a"/>
<path d="M458.5 222.0V234.2" stroke="#2fa69a" stroke-width="0.9"/>
<rect x="457.6" y="222.0" width="1.7" height="12.2" fill="#2fa69a"/>
<path d="M460.0 219.7V232.0" stroke="#f4564e" stroke-width="0.9"/>
<rect x="459.1" y="221.2" width="1.7" height="10.8" fill="#f4564e"/>
<path d="M461.5 220.1V249.5" stroke="#f4564e" stroke-width="0.9"/>
<rect x="460.6" y="222.6" width="1.7" height="25.4" fill="#f4564e"/>
<path d="M463.0 235.7V264.5" stroke="#f4564e" stroke-width="0.9"/>
<rect x="462.1" y="237.2" width="1.7" height="26.8" fill="#f4564e"/>
<path d="M464.5 251.5V271.8" stroke="#2fa69a" stroke-width="0.9"/>
<rect x="463.6" y="254.0" width="1.7" height="16.8" fill="#2fa69a"/>
<path d="M466.0 246.2V268.5" stroke="#f4564e" stroke-width="0.9"/>
<rect x="465.1" y="247.2" width="1.7" height="18.8" fill="#f4564e"/>
<path d="M467.5 259.5V277.0" stroke="#f4564e" stroke-width="0.9"/>
<rect x="466.6" y="262.0" width="1.7" height="8.0" fill="#f4564e"/>
<path d="M469.0 253.5V272.3" stroke="#2fa69a" stroke-width="0.9"/>
<rect x="468.1" y="256.0" width="1.7" height="14.8" fill="#2fa69a"/>
<path d="M470.5 253.7V267.5" stroke="#f4564e" stroke-width="0.9"/>
<rect x="469.6" y="255.2" width="1.7" height="10.8" fill="#f4564e"/>
<path d="M472.0 256.5V264.2" stroke="#2fa69a" stroke-width="0.9"/>
<rect x="471.1" y="258.0" width="1.7" height="6.2" fill="#2fa69a"/>
<path d="M473.5 264.0V265.8" stroke="#2fa69a" stroke-width="0.9"/>
<rect x="472.6" y="264.0" width="1.7" height="1.8" fill="#2fa69a"/>
<path d="M475.0 257.0V265.7" stroke="#2fa69a" stroke-width="0.9"/>
<rect x="474.1" y="257.0" width="1.7" height="8.2" fill="#2fa69a"/>
<path d="M476.5 255.2V277.0" stroke="#f4564e" stroke-width="0.9"/>
<rect x="475.6" y="256.2" width="1.7" height="11.8" fill="#f4564e"/>
<path d="M478.0 258.5V267.5" stroke="#2fa69a" stroke-width="0.9"/>
<rect x="477.1" y="260.0" width="1.7" height="6.5" fill="#2fa69a"/>
<path d="M479.5 266.3V270.0" stroke="#f4564e" stroke-width="0.9"/>
<rect x="478.6" y="266.8" width="1.7" height="3.2" fill="#f4564e"/>
<path d="M481.0 260.5V268.4" stroke="#2fa69a" stroke-width="0.9"/>
<rect x="480.1" y="263.0" width="1.7" height="5.4" fill="#2fa69a"/>
<path d="M482.5 261.2V272.0" stroke="#f4564e" stroke-width="0.9"/>
<rect x="481.6" y="262.2" width="1.7" height="8.8" fill="#f4564e"/>
<path d="M484.0 264.0V268.0" stroke="#2fa69a" stroke-width="0.9"/>
<rect x="483.1" y="265.0" width="1.7" height="3.0" fill="#2fa69a"/>
<path d="M485.5 268.5V270.8" stroke="#2fa69a" stroke-width="0.9"/>
<rect x="484.6" y="269.0" width="1.7" height="1.8" fill="#2fa69a"/>
<path d="M487.0 237.5V270.8" stroke="#2fa69a" stroke-width="0.9"/>
<rect x="486.1" y="240.0" width="1.7" height="30.8" fill="#2fa69a"/>
<path d="M488.5 202.5V249.7" stroke="#2fa69a" stroke-width="0.9"/>
<rect x="487.6" y="205.0" width="1.7" height="44.7" fill="#2fa69a"/>
<path d="M490.0 197.5V210.4" stroke="#2fa69a" stroke-width="0.9"/>
<rect x="489.1" y="199.0" width="1.7" height="10.9" fill="#2fa69a"/>
<path d="M491.5 198.2V206.0" stroke="#f4564e" stroke-width="0.9"/>
<rect x="490.6" y="198.7" width="1.7" height="7.3" fill="#f4564e"/>
<path d="M493.0 197.2V200.2" stroke="#f4564e" stroke-width="0.9"/>
<rect x="492.1" y="198.7" width="1.7" height="1.5" fill="#f4564e"/>
<path d="M494.5 198.0V208.5" stroke="#f4564e" stroke-width="0.9"/>
<rect x="493.6" y="199.0" width="1.7" height="8.0" fill="#f4564e"/>
<path d="M496.0 201.0V208.8" stroke="#2fa69a" stroke-width="0.9"/>
<rect x="495.1" y="201.0" width="1.7" height="6.8" fill="#2fa69a"/>
<path d="M497.5 195.0V207.3" stroke="#2fa69a" stroke-width="0.9"/>
<rect x="496.6" y="195.0" width="1.7" height="10.8" fill="#2fa69a"/>
<path d="M499.0 188.0V202.5" stroke="#2fa69a" stroke-width="0.9"/>
<rect x="498.1" y="188.0" width="1.7" height="13.5" fill="#2fa69a"/>
<path d="M500.5 184.0V192.6" stroke="#2fa69a" stroke-width="0.9"/>
<rect x="499.6" y="184.0" width="1.7" height="8.1" fill="#2fa69a"/>
<path d="M502.0 183.2V196.5" stroke="#f4564e" stroke-width="0.9"/>
<rect x="501.1" y="183.2" width="1.7" height="11.8" fill="#f4564e"/>
<path d="M503.5 186.1V208.5" stroke="#f4564e" stroke-width="0.9"/>
<rect x="502.6" y="186.1" width="1.7" height="20.9" fill="#f4564e"/>
<path d="M505.0 193.5V208.8" stroke="#2fa69a" stroke-width="0.9"/>
<rect x="504.1" y="195.0" width="1.7" height="12.8" fill="#2fa69a"/>
<path d="M506.5 174.5V204.7" stroke="#2fa69a" stroke-width="0.9"/>
<rect x="505.6" y="183.0" width="1.7" height="21.2" fill="#2fa69a"/>
<path d="M508.0 179.0V186.7" stroke="#2fa69a" stroke-width="0.9"/>
<rect x="507.1" y="180.0" width="1.7" height="6.7" fill="#2fa69a"/>
<path d="M509.5 179.2V186.5" stroke="#f4564e" stroke-width="0.9"/>
<rect x="508.6" y="179.2" width="1.7" height="6.8" fill="#f4564e"/>
<path d="M511.0 182.4V190.0" stroke="#f4564e" stroke-width="0.9"/>
<rect x="510.1" y="182.9" width="1.7" height="7.1" fill="#f4564e"/>
<path d="M512.5 185.0V194.0" stroke="#f4564e" stroke-width="0.9"/>
<rect x="511.6" y="185.5" width="1.7" height="8.5" fill="#f4564e"/>
<path d="M514.0 190.2V198.0" stroke="#f4564e" stroke-width="0.9"/>
<rect x="513.1" y="190.2" width="1.7" height="7.8" fill="#f4564e"/>
<path d="M515.5 193.9V203.5" stroke="#f4564e" stroke-width="0.9"/>
<rect x="514.6" y="193.9" width="1.7" height="8.1" fill="#f4564e"/>
<path d="M517.0 198.7V205.0" stroke="#f4564e" stroke-width="0.9"/>
<rect x="516.1" y="198.7" width="1.7" height="6.3" fill="#f4564e"/>
<path d="M518.5 201.5V207.0" stroke="#f4564e" stroke-width="0.9"/>
<rect x="517.6" y="203.0" width="1.7" height="3.0" fill="#f4564e"/>
<path d="M520.0 195.0V208.3" stroke="#2fa69a" stroke-width="0.9"/>
<rect x="519.1" y="195.0" width="1.7" height="11.8" fill="#2fa69a"/>
<path d="M521.5 183.5V204.1" stroke="#2fa69a" stroke-width="0.9"/>
<rect x="520.6" y="184.0" width="1.7" height="19.6" fill="#2fa69a"/>
<path d="M523.0 171.0V189.2" stroke="#2fa69a" stroke-width="0.9"/>
<rect x="522.1" y="178.0" width="1.7" height="11.2" fill="#2fa69a"/>
<path d="M524.5 175.7V184.5" stroke="#f4564e" stroke-width="0.9"/>
<rect x="523.6" y="177.2" width="1.7" height="6.8" fill="#f4564e"/>
<path d="M526.0 178.5V187.8" stroke="#2fa69a" stroke-width="0.9"/>
<rect x="525.1" y="180.0" width="1.7" height="7.8" fill="#2fa69a"/>
<path d="M527.5 176.7V188.0" stroke="#f4564e" stroke-width="0.9"/>
<rect x="526.6" y="177.2" width="1.7" height="10.8" fill="#f4564e"/>
<path d="M529.0 184.7V192.0" stroke="#f4564e" stroke-width="0.9"/>
<rect x="528.1" y="184.7" width="1.7" height="7.3" fill="#f4564e"/>
<path d="M530.5 185.5V202.5" stroke="#f4564e" stroke-width="0.9"/>
<rect x="529.6" y="185.5" width="1.7" height="14.5" fill="#f4564e"/>
<path d="M532.0 192.0V211.5" stroke="#f4564e" stroke-width="0.9"/>
<rect x="531.1" y="192.0" width="1.7" height="18.0" fill="#f4564e"/>
<path d="M533.5 203.3V223.6" stroke="#f4564e" stroke-width="0.9"/>
<rect x="532.6" y="204.8" width="1.7" height="12.2" fill="#f4564e"/>
<path d="M535.0 212.0V218.3" stroke="#2fa69a" stroke-width="0.9"/>
<rect x="534.1" y="212.0" width="1.7" height="5.8" fill="#2fa69a"/>
<path d="M536.5 202.5V218.8" stroke="#2fa69a" stroke-width="0.9"/>
<rect x="535.6" y="205.0" width="1.7" height="12.8" fill="#2fa69a"/>
<path d="M538.0 197.5V212.8" stroke="#2fa69a" stroke-width="0.9"/>
<rect x="537.1" y="198.0" width="1.7" height="12.3" fill="#2fa69a"/>
<path d="M539.5 194.0V201.6" stroke="#2fa69a" stroke-width="0.9"/>
<rect x="538.6" y="194.0" width="1.7" height="7.6" fill="#2fa69a"/>
<path d="M541.0 190.5V200.5" stroke="#f4564e" stroke-width="0.9"/>
<rect x="540.1" y="193.0" width="1.7" height="6.0" fill="#f4564e"/>
<path d="M542.5 193.0V194.6" stroke="#2fa69a" stroke-width="0.9"/>
<rect x="541.6" y="193.0" width="1.7" height="1.6" fill="#2fa69a"/>
<path d="M544.0 192.0V201.0" stroke="#f4564e" stroke-width="0.9"/>
<rect x="543.1" y="192.5" width="1.7" height="7.5" fill="#f4564e"/>
<path d="M545.5 191.5V200.8" stroke="#2fa69a" stroke-width="0.9"/>
<rect x="544.6" y="194.0" width="1.7" height="6.8" fill="#2fa69a"/>
<path d="M547.0 190.5V197.7" stroke="#2fa69a" stroke-width="0.9"/>
<rect x="546.1" y="191.0" width="1.7" height="6.7" fill="#2fa69a"/>
<path d="M548.5 188.5V193.9" stroke="#2fa69a" stroke-width="0.9"/>
<rect x="547.6" y="190.0" width="1.7" height="3.4" fill="#2fa69a"/>
<path d="M550.0 188.2V197.0" stroke="#f4564e" stroke-width="0.9"/>
<rect x="549.1" y="189.2" width="1.7" height="6.8" fill="#f4564e"/>
<path d="M551.5 189.2V205.0" stroke="#f4564e" stroke-width="0.9"/>
<rect x="550.6" y="189.2" width="1.7" height="15.8" fill="#f4564e"/>
<path d="M553.0 196.3V214.5" stroke="#f4564e" stroke-width="0.9"/>
<rect x="552.1" y="196.8" width="1.7" height="17.2" fill="#f4564e"/>
<path d="M554.5 207.1V223.5" stroke="#f4564e" stroke-width="0.9"/>
<rect x="553.6" y="207.1" width="1.7" height="14.9" fill="#f4564e"/>
<path d="M556.0 216.2V229.5" stroke="#f4564e" stroke-width="0.9"/>
<rect x="555.1" y="216.7" width="1.7" height="10.3" fill="#f4564e"/>
<path d="M557.5 223.0V227.8" stroke="#2fa69a" stroke-width="0.9"/>
<rect x="556.6" y="224.0" width="1.7" height="3.8" fill="#2fa69a"/>
<path d="M559.0 221.5V226.0" stroke="#f4564e" stroke-width="0.9"/>
<rect x="558.1" y="222.0" width="1.7" height="4.0" fill="#f4564e"/>
<path d="M560.5 219.0V229.3" stroke="#2fa69a" stroke-width="0.9"/>
<rect x="559.6" y="219.0" width="1.7" height="8.8" fill="#2fa69a"/>
<path d="M562.0 213.5V223.4" stroke="#2fa69a" stroke-width="0.9"/>
<rect x="561.1" y="215.0" width="1.7" height="8.4" fill="#2fa69a"/>
<path d="M563.5 209.1V222.0" stroke="#f4564e" stroke-width="0.9"/>
<rect x="562.6" y="209.1" width="1.7" height="12.9" fill="#f4564e"/>
<path d="M565.0 210.5V223.3" stroke="#2fa69a" stroke-width="0.9"/>
<rect x="564.1" y="212.0" width="1.7" height="10.8" fill="#2fa69a"/>
<path d="M566.5 205.5V216.0" stroke="#2fa69a" stroke-width="0.9"/>
<rect x="565.6" y="207.0" width="1.7" height="9.0" fill="#2fa69a"/>
<path d="M568.0 203.0V212.0" stroke="#2fa69a" stroke-width="0.9"/>
<rect x="567.1" y="204.0" width="1.7" height="5.5" fill="#2fa69a"/>
<path d="M569.5 200.0V208.4" stroke="#2fa69a" stroke-width="0.9"/>
<rect x="568.6" y="200.0" width="1.7" height="7.9" fill="#2fa69a"/>
<path d="M571.0 194.3V202.5" stroke="#f4564e" stroke-width="0.9"/>
<rect x="570.1" y="196.8" width="1.7" height="5.2" fill="#f4564e"/>
<path d="M572.5 196.0V204.8" stroke="#2fa69a" stroke-width="0.9"/>
<rect x="571.6" y="197.0" width="1.7" height="7.8" fill="#2fa69a"/>
<path d="M574.0 193.0V198.4" stroke="#2fa69a" stroke-width="0.9"/>
<rect x="573.1" y="196.0" width="1.7" height="2.4" fill="#2fa69a"/>
<path d="M575.5 195.2V200.0" stroke="#f4564e" stroke-width="0.9"/>
<rect x="574.6" y="195.2" width="1.7" height="4.8" fill="#f4564e"/>
<path d="M577.0 192.7V209.0" stroke="#f4564e" stroke-width="0.9"/>
<rect x="576.1" y="195.2" width="1.7" height="12.8" fill="#f4564e"/>
<path d="M578.5 202.5V216.5" stroke="#f4564e" stroke-width="0.9"/>
<rect x="577.6" y="202.5" width="1.7" height="12.5" fill="#f4564e"/>
<path d="M580.0 208.5V221.5" stroke="#f4564e" stroke-width="0.9"/>
<rect x="579.1" y="209.0" width="1.7" height="12.0" fill="#f4564e"/>
<path d="M581.5 218.0V225.2" stroke="#2fa69a" stroke-width="0.9"/>
<rect x="580.6" y="218.0" width="1.7" height="6.7" fill="#2fa69a"/>
<path d="M583.0 211.7V230.0" stroke="#f4564e" stroke-width="0.9"/>
<rect x="582.1" y="214.2" width="1.7" height="15.8" fill="#f4564e"/>
<path d="M584.5 220.9V240.0" stroke="#f4564e" stroke-width="0.9"/>
<rect x="583.6" y="221.9" width="1.7" height="18.1" fill="#f4564e"/>
<path d="M586.0 233.2V237.0" stroke="#f4564e" stroke-width="0.9"/>
<rect x="585.1" y="234.2" width="1.7" height="1.8" fill="#f4564e"/>
<path d="M587.5 236.3V243.5" stroke="#f4564e" stroke-width="0.9"/>
<rect x="586.6" y="238.8" width="1.7" height="2.2" fill="#f4564e"/>
<path d="M589.0 235.0V240.3" stroke="#2fa69a" stroke-width="0.9"/>
<rect x="588.1" y="235.0" width="1.7" height="5.3" fill="#2fa69a"/>
<path d="M590.5 232.7V240.5" stroke="#f4564e" stroke-width="0.9"/>
<rect x="589.6" y="234.2" width="1.7" height="5.8" fill="#f4564e"/>
<path d="M592.0 234.0V242.8" stroke="#2fa69a" stroke-width="0.9"/>
<rect x="591.1" y="234.0" width="1.7" height="6.3" fill="#2fa69a"/>
<path d="M593.5 239.0V240.5" stroke="#2fa69a" stroke-width="0.9"/>
<rect x="592.6" y="239.0" width="1.7" height="1.5" fill="#2fa69a"/>
<path d="M595.0 231.5V241.4" stroke="#2fa69a" stroke-width="0.9"/>
<rect x="594.1" y="233.0" width="1.7" height="5.9" fill="#2fa69a"/>
<path d="M596.5 231.7V239.0" stroke="#f4564e" stroke-width="0.9"/>
<rect x="595.6" y="232.2" width="1.7" height="5.8" fill="#f4564e"/>
<path d="M598.0 230.0V239.3" stroke="#2fa69a" stroke-width="0.9"/>
<rect x="597.1" y="230.0" width="1.7" height="8.8" fill="#2fa69a"/>
<path d="M599.5 233.6V239.0" stroke="#f4564e" stroke-width="0.9"/>
<rect x="598.6" y="236.1" width="1.7" height="1.9" fill="#f4564e"/>
<path d="M601.0 228.5V238.4" stroke="#2fa69a" stroke-width="0.9"/>
<rect x="600.1" y="229.0" width="1.7" height="9.4" fill="#2fa69a"/>
<path d="M602.5 228.2V240.0" stroke="#f4564e" stroke-width="0.9"/>
<rect x="601.6" y="228.2" width="1.7" height="11.8" fill="#f4564e"/>
<path d="M604.0 230.5V237.2" stroke="#2fa69a" stroke-width="0.9"/>
<rect x="603.1" y="232.0" width="1.7" height="5.2" fill="#2fa69a"/>
<path d="M605.5 236.7V242.5" stroke="#f4564e" stroke-width="0.9"/>
<rect x="604.6" y="238.2" width="1.7" height="2.8" fill="#f4564e"/>
<path d="M607.0 231.5V241.4" stroke="#2fa69a" stroke-width="0.9"/>
<rect x="606.1" y="234.0" width="1.7" height="6.9" fill="#2fa69a"/>
<path d="M608.5 226.9V240.0" stroke="#f4564e" stroke-width="0.9"/>
<rect x="607.6" y="229.4" width="1.7" height="10.6" fill="#f4564e"/>
<path d="M610.0 232.0V234.0" stroke="#2fa69a" stroke-width="0.9"/>
<rect x="609.1" y="232.0" width="1.7" height="2.0" fill="#2fa69a"/>
<path d="M611.5 226.0V236.3" stroke="#2fa69a" stroke-width="0.9"/>
<rect x="610.6" y="226.0" width="1.7" height="8.8" fill="#2fa69a"/>
<path d="M613.0 224.2V234.5" stroke="#f4564e" stroke-width="0.9"/>
<rect x="612.1" y="224.2" width="1.7" height="8.8" fill="#f4564e"/>
<path d="M614.5 222.5V226.9" stroke="#2fa69a" stroke-width="0.9"/>
<rect x="613.6" y="224.0" width="1.7" height="2.4" fill="#2fa69a"/>
<path d="M616.0 224.6V232.0" stroke="#f4564e" stroke-width="0.9"/>
<rect x="615.1" y="224.6" width="1.7" height="7.4" fill="#f4564e"/>
<path d="M617.5 221.0V233.8" stroke="#2fa69a" stroke-width="0.9"/>
<rect x="616.6" y="222.0" width="1.7" height="10.8" fill="#2fa69a"/>
<path d="M619.0 224.3V230.0" stroke="#f4564e" stroke-width="0.9"/>
<rect x="618.1" y="224.3" width="1.7" height="5.7" fill="#f4564e"/>
<path d="M620.5 220.4V222.0" stroke="#f4564e" stroke-width="0.9"/>
<rect x="619.6" y="220.4" width="1.7" height="1.6" fill="#f4564e"/>
<path d="M622.0 211.5V227.8" stroke="#2fa69a" stroke-width="0.9"/>
<rect x="621.1" y="212.0" width="1.7" height="15.8" fill="#2fa69a"/>
<path d="M623.5 201.5V222.7" stroke="#2fa69a" stroke-width="0.9"/>
<rect x="622.6" y="203.0" width="1.7" height="17.2" fill="#2fa69a"/>
<path d="M625.0 201.7V207.0" stroke="#f4564e" stroke-width="0.9"/>
<rect x="624.1" y="202.2" width="1.7" height="3.8" fill="#f4564e"/>
<path d="M626.5 202.2V214.0" stroke="#f4564e" stroke-width="0.9"/>
<rect x="625.6" y="202.2" width="1.7" height="11.8" fill="#f4564e"/>
<path d="M628.0 206.4V221.5" stroke="#f4564e" stroke-width="0.9"/>
<rect x="627.1" y="207.9" width="1.7" height="12.1" fill="#f4564e"/>
<path d="M629.5 216.0V220.8" stroke="#2fa69a" stroke-width="0.9"/>
<rect x="628.6" y="216.0" width="1.7" height="4.8" fill="#2fa69a"/>
<path d="M631.0 208.5V222.3" stroke="#2fa69a" stroke-width="0.9"/>
<rect x="630.1" y="210.0" width="1.7" height="10.8" fill="#2fa69a"/>
<path d="M632.5 205.0V214.5" stroke="#2fa69a" stroke-width="0.9"/>
<rect x="631.6" y="205.0" width="1.7" height="9.5" fill="#2fa69a"/>
<path d="M634.0 200.0V209.9" stroke="#2fa69a" stroke-width="0.9"/>
<rect x="633.1" y="200.0" width="1.7" height="9.9" fill="#2fa69a"/>
<path d="M635.5 193.5V204.6" stroke="#2fa69a" stroke-width="0.9"/>
<rect x="634.6" y="195.0" width="1.7" height="9.6" fill="#2fa69a"/>
<path d="M637.0 191.0V200.8" stroke="#2fa69a" stroke-width="0.9"/>
<rect x="636.1" y="191.0" width="1.7" height="8.3" fill="#2fa69a"/>
<path d="M638.5 189.3V194.5" stroke="#f4564e" stroke-width="0.9"/>
<rect x="637.6" y="189.3" width="1.7" height="2.7" fill="#f4564e"/>
<path d="M640.0 185.5V196.6" stroke="#2fa69a" stroke-width="0.9"/>
<rect x="639.1" y="188.0" width="1.7" height="7.6" fill="#2fa69a"/>
<path d="M641.5 185.5V189.8" stroke="#2fa69a" stroke-width="0.9"/>
<rect x="640.6" y="186.0" width="1.7" height="3.8" fill="#2fa69a"/>
<path d="M643.0 179.5V189.6" stroke="#2fa69a" stroke-width="0.9"/>
<rect x="642.1" y="182.0" width="1.7" height="7.6" fill="#2fa69a"/>
<path d="M644.5 179.9V184.0" stroke="#f4564e" stroke-width="0.9"/>
<rect x="643.6" y="179.9" width="1.7" height="4.1" fill="#f4564e"/>
<path d="M646.0 173.5V187.8" stroke="#2fa69a" stroke-width="0.9"/>
<rect x="645.1" y="180.0" width="1.7" height="7.8" fill="#2fa69a"/>
<path d="M647.5 178.7V184.0" stroke="#f4564e" stroke-width="0.9"/>
<rect x="646.6" y="179.2" width="1.7" height="3.8" fill="#f4564e"/>
<path d="M649.0 179.6V187.5" stroke="#f4564e" stroke-width="0.9"/>
<rect x="648.1" y="179.6" width="1.7" height="7.4" fill="#f4564e"/>
<path d="M650.5 181.7V191.0" stroke="#f4564e" stroke-width="0.9"/>
<rect x="649.6" y="183.2" width="1.7" height="7.8" fill="#f4564e"/>
<path d="M652.0 186.3V195.5" stroke="#f4564e" stroke-width="0.9"/>
<rect x="651.1" y="186.3" width="1.7" height="8.7" fill="#f4564e"/>
<path d="M653.5 193.2V198.0" stroke="#f4564e" stroke-width="0.9"/>
<rect x="652.6" y="193.2" width="1.7" height="3.8" fill="#f4564e"/>
<path d="M655.0 190.0V199.3" stroke="#2fa69a" stroke-width="0.9"/>
<rect x="654.1" y="190.0" width="1.7" height="7.8" fill="#2fa69a"/>
<path d="M656.5 184.5V194.4" stroke="#2fa69a" stroke-width="0.9"/>
<rect x="655.6" y="185.0" width="1.7" height="8.9" fill="#2fa69a"/>
<path d="M658.0 184.5V189.5" stroke="#f4564e" stroke-width="0.9"/>
<rect x="657.1" y="184.5" width="1.7" height="3.5" fill="#f4564e"/>
<path d="M659.5 183.0V185.2" stroke="#2fa69a" stroke-width="0.9"/>
<rect x="658.6" y="183.0" width="1.7" height="2.2" fill="#2fa69a"/>
<path d="M661.0 183.4V187.5" stroke="#f4564e" stroke-width="0.9"/>
<rect x="660.1" y="183.4" width="1.7" height="2.6" fill="#f4564e"/>
<path d="M662.5 179.5V187.3" stroke="#2fa69a" stroke-width="0.9"/>
<rect x="661.6" y="181.0" width="1.7" height="5.8" fill="#2fa69a"/>
<path d="M664.0 180.9V185.5" stroke="#f4564e" stroke-width="0.9"/>
<rect x="663.1" y="182.4" width="1.7" height="1.6" fill="#f4564e"/>
<path d="M665.5 180.0V181.8" stroke="#2fa69a" stroke-width="0.9"/>
<rect x="664.6" y="180.0" width="1.7" height="1.8" fill="#2fa69a"/>
<path d="M667.0 180.0V184.0" stroke="#f4564e" stroke-width="0.9"/>
<rect x="666.1" y="180.0" width="1.7" height="4.0" fill="#f4564e"/>
<path d="M668.5 181.0V186.5" stroke="#2fa69a" stroke-width="0.9"/>
<rect x="667.6" y="181.0" width="1.7" height="5.5" fill="#2fa69a"/>
<path d="M670.0 183.1V186.0" stroke="#f4564e" stroke-width="0.9"/>
<rect x="669.1" y="183.1" width="1.7" height="1.9" fill="#f4564e"/>
<path d="M671.5 183.2V190.5" stroke="#f4564e" stroke-width="0.9"/>
<rect x="670.6" y="183.2" width="1.7" height="6.8" fill="#f4564e"/>
<path d="M673.0 183.8V194.0" stroke="#f4564e" stroke-width="0.9"/>
<rect x="672.1" y="186.3" width="1.7" height="7.7" fill="#f4564e"/>
<path d="M674.5 189.0V198.0" stroke="#f4564e" stroke-width="0.9"/>
<rect x="673.6" y="189.5" width="1.7" height="8.5" fill="#f4564e"/>
<path d="M676.0 195.0V201.0" stroke="#f4564e" stroke-width="0.9"/>
<rect x="675.1" y="195.5" width="1.7" height="5.5" fill="#f4564e"/>
<path d="M677.5 198.2V210.0" stroke="#f4564e" stroke-width="0.9"/>
<rect x="676.6" y="198.7" width="1.7" height="4.3" fill="#f4564e"/>
<path d="M679.0 198.5V205.3" stroke="#2fa69a" stroke-width="0.9"/>
<rect x="678.1" y="200.0" width="1.7" height="4.8" fill="#2fa69a"/>
<path d="M680.5 202.4V205.0" stroke="#f4564e" stroke-width="0.9"/>
<rect x="679.6" y="202.9" width="1.7" height="2.1" fill="#f4564e"/>
<path d="M682.0 194.5V205.1" stroke="#2fa69a" stroke-width="0.9"/>
<rect x="681.1" y="197.0" width="1.7" height="7.6" fill="#2fa69a"/>
<path d="M683.5 196.2V206.5" stroke="#f4564e" stroke-width="0.9"/>
<rect x="682.6" y="196.2" width="1.7" height="9.8" fill="#f4564e"/>
<path d="M685.0 198.0V204.8" stroke="#2fa69a" stroke-width="0.9"/>
<rect x="684.1" y="198.0" width="1.7" height="6.8" fill="#2fa69a"/>
<path d="M686.5 205.5V208.0" stroke="#f4564e" stroke-width="0.9"/>
<rect x="685.6" y="205.5" width="1.7" height="1.5" fill="#f4564e"/>
<path d="M688.0 199.0V206.3" stroke="#2fa69a" stroke-width="0.9"/>
<rect x="687.1" y="199.0" width="1.7" height="7.3" fill="#2fa69a"/>
<path d="M689.5 197.2V206.0" stroke="#f4564e" stroke-width="0.9"/>
<rect x="688.6" y="198.2" width="1.7" height="7.8" fill="#f4564e"/>
<path d="M691.0 196.5V207.0" stroke="#2fa69a" stroke-width="0.9"/>
<rect x="690.1" y="198.0" width="1.7" height="7.5" fill="#2fa69a"/>
<path d="M692.5 204.0V205.8" stroke="#2fa69a" stroke-width="0.9"/>
<rect x="691.6" y="204.0" width="1.7" height="1.8" fill="#2fa69a"/>
<path d="M694.0 197.5V205.6" stroke="#2fa69a" stroke-width="0.9"/>
<rect x="693.1" y="200.0" width="1.7" height="4.6" fill="#2fa69a"/>
<path d="M695.5 195.4V202.0" stroke="#f4564e" stroke-width="0.9"/>
<rect x="694.6" y="196.9" width="1.7" height="5.1" fill="#f4564e"/>
<path d="M697.0 198.0V202.2" stroke="#2fa69a" stroke-width="0.9"/>
<rect x="696.1" y="198.0" width="1.7" height="4.2" fill="#2fa69a"/>
<path d="M698.5 198.5V203.8" stroke="#2fa69a" stroke-width="0.9"/>
<rect x="697.6" y="199.0" width="1.7" height="2.3" fill="#2fa69a"/>
<path d="M700.0 195.0V201.1" stroke="#2fa69a" stroke-width="0.9"/>
<rect x="699.1" y="195.0" width="1.7" height="5.6" fill="#2fa69a"/>
<path d="M701.5 194.2V196.5" stroke="#f4564e" stroke-width="0.9"/>
<rect x="700.6" y="194.2" width="1.7" height="1.8" fill="#f4564e"/>
<path d="M703.0 189.5V200.5" stroke="#2fa69a" stroke-width="0.9"/>
<rect x="702.1" y="192.0" width="1.7" height="7.0" fill="#2fa69a"/>
<path d="M704.5 193.8V199.5" stroke="#f4564e" stroke-width="0.9"/>
<rect x="703.6" y="195.3" width="1.7" height="1.7" fill="#f4564e"/>
<path d="M706.0 194.3V200.0" stroke="#f4564e" stroke-width="0.9"/>
<rect x="705.1" y="194.3" width="1.7" height="5.7" fill="#f4564e"/>
<path d="M707.5 189.5V200.8" stroke="#2fa69a" stroke-width="0.9"/>
<rect x="706.6" y="190.0" width="1.7" height="10.8" fill="#2fa69a"/>
<path d="M709.0 179.0V198.6" stroke="#2fa69a" stroke-width="0.9"/>
<rect x="708.1" y="180.0" width="1.7" height="18.6" fill="#2fa69a"/>
<path d="M710.5 172.0V185.8" stroke="#2fa69a" stroke-width="0.9"/>
<rect x="709.6" y="177.0" width="1.7" height="6.3" fill="#2fa69a"/>
<path d="M712.0 175.7V181.0" stroke="#f4564e" stroke-width="0.9"/>
<rect x="711.1" y="176.2" width="1.7" height="4.8" fill="#f4564e"/>
<path d="M713.5 175.7V187.0" stroke="#f4564e" stroke-width="0.9"/>
<rect x="712.6" y="176.2" width="1.7" height="9.8" fill="#f4564e"/>
<path d="M715.0 180.6V192.5" stroke="#f4564e" stroke-width="0.9"/>
<rect x="714.1" y="180.6" width="1.7" height="11.4" fill="#f4564e"/>
<path d="M716.5 185.3V199.0" stroke="#f4564e" stroke-width="0.9"/>
<rect x="715.6" y="185.3" width="1.7" height="13.7" fill="#f4564e"/>
<path d="M718.0 193.4V205.0" stroke="#f4564e" stroke-width="0.9"/>
<rect x="717.1" y="193.4" width="1.7" height="11.6" fill="#f4564e"/>
<path d="M719.5 200.4V213.0" stroke="#f4564e" stroke-width="0.9"/>
<rect x="718.6" y="201.9" width="1.7" height="6.1" fill="#f4564e"/>
<path d="M721.0 203.0V208.8" stroke="#2fa69a" stroke-width="0.9"/>
<rect x="720.1" y="203.0" width="1.7" height="5.3" fill="#2fa69a"/>
<path d="M722.5 205.5V208.5" stroke="#2fa69a" stroke-width="0.9"/>
<rect x="721.6" y="207.0" width="1.7" height="1.5" fill="#2fa69a"/>
<path d="M724.0 198.5V210.6" stroke="#2fa69a" stroke-width="0.9"/>
<rect x="723.1" y="201.0" width="1.7" height="7.1" fill="#2fa69a"/>
<path d="M725.5 200.2V208.5" stroke="#f4564e" stroke-width="0.9"/>
<rect x="724.6" y="200.2" width="1.7" height="5.8" fill="#f4564e"/>
<path d="M727.0 200.0V206.3" stroke="#2fa69a" stroke-width="0.9"/>
<rect x="726.1" y="200.0" width="1.7" height="6.3" fill="#2fa69a"/>
<path d="M728.5 205.0V206.5" stroke="#2fa69a" stroke-width="0.9"/>
<rect x="727.6" y="205.0" width="1.7" height="1.5" fill="#2fa69a"/>
<path d="M730.0 200.0V206.7" stroke="#2fa69a" stroke-width="0.9"/>
<rect x="729.1" y="200.0" width="1.7" height="6.2" fill="#2fa69a"/>
<path d="M731.5 199.2V206.0" stroke="#f4564e" stroke-width="0.9"/>
<rect x="730.6" y="199.2" width="1.7" height="6.8" fill="#f4564e"/>
<path d="M733.0 200.0V204.5" stroke="#2fa69a" stroke-width="0.9"/>
<rect x="732.1" y="201.0" width="1.7" height="3.5" fill="#2fa69a"/>
<path d="M734.5 204.5V206.5" stroke="#2fa69a" stroke-width="0.9"/>
<rect x="733.6" y="205.0" width="1.7" height="1.5" fill="#2fa69a"/>
<path d="M736.0 199.0V207.3" stroke="#2fa69a" stroke-width="0.9"/>
<rect x="735.1" y="200.0" width="1.7" height="6.3" fill="#2fa69a"/>
<path d="M737.5 182.5V206.3" stroke="#2fa69a" stroke-width="0.9"/>
<rect x="736.6" y="185.0" width="1.7" height="21.3" fill="#2fa69a"/>
<path d="M739.0 174.0V194.1" stroke="#2fa69a" stroke-width="0.9"/>
<rect x="738.1" y="174.0" width="1.7" height="20.1" fill="#2fa69a"/>
<path d="M740.5 168.5V176.4" stroke="#2fa69a" stroke-width="0.9"/>
<rect x="739.6" y="171.0" width="1.7" height="5.4" fill="#2fa69a"/>
<path d="M742.0 165.0V176.9" stroke="#2fa69a" stroke-width="0.9"/>
<rect x="741.1" y="165.0" width="1.7" height="11.9" fill="#2fa69a"/>
<path d="M743.5 158.0V171.7" stroke="#2fa69a" stroke-width="0.9"/>
<rect x="742.6" y="158.0" width="1.7" height="13.7" fill="#2fa69a"/>
<path d="M745.0 156.5V168.5" stroke="#f4564e" stroke-width="0.9"/>
<rect x="744.1" y="157.5" width="1.7" height="8.5" fill="#f4564e"/>
<path d="M746.5 157.0V159.1" stroke="#2fa69a" stroke-width="0.9"/>
<rect x="745.6" y="157.0" width="1.7" height="2.1" fill="#2fa69a"/>
<path d="M748.0 157.2V163.5" stroke="#f4564e" stroke-width="0.9"/>
<rect x="747.1" y="157.2" width="1.7" height="5.8" fill="#f4564e"/>
<path d="M749.5 153.5V171.7" stroke="#2fa69a" stroke-width="0.9"/>
<rect x="748.6" y="156.0" width="1.7" height="13.2" fill="#2fa69a"/>
<path d="M751.0 162.0V164.3" stroke="#2fa69a" stroke-width="0.9"/>
<rect x="750.1" y="162.0" width="1.7" height="2.3" fill="#2fa69a"/>
<path d="M752.5 159.7V171.0" stroke="#f4564e" stroke-width="0.9"/>
<rect x="751.6" y="161.2" width="1.7" height="8.8" fill="#f4564e"/>
<path d="M754.0 165.6V175.0" stroke="#f4564e" stroke-width="0.9"/>
<rect x="753.1" y="165.6" width="1.7" height="9.4" fill="#f4564e"/>
<path d="M755.5 171.0V175.7" stroke="#2fa69a" stroke-width="0.9"/>
<rect x="754.6" y="171.0" width="1.7" height="4.7" fill="#2fa69a"/>
<path d="M757.0 173.5V179.0" stroke="#f4564e" stroke-width="0.9"/>
<rect x="756.1" y="173.5" width="1.7" height="4.5" fill="#f4564e"/>
<path d="M758.5 172.0V179.9" stroke="#2fa69a" stroke-width="0.9"/>
<rect x="757.6" y="172.0" width="1.7" height="5.4" fill="#2fa69a"/>
<path d="M760.0 171.2V179.5" stroke="#f4564e" stroke-width="0.9"/>
<rect x="759.1" y="171.2" width="1.7" height="7.8" fill="#f4564e"/>
<path d="M761.5 174.0V178.6" stroke="#2fa69a" stroke-width="0.9"/>
<rect x="760.6" y="174.0" width="1.7" height="3.6" fill="#2fa69a"/>
<path d="M763.0 178.0V179.5" stroke="#2fa69a" stroke-width="0.9"/>
<rect x="762.1" y="178.0" width="1.7" height="1.5" fill="#2fa69a"/>
<path d="M764.5 159.0V179.8" stroke="#2fa69a" stroke-width="0.9"/>
<rect x="763.6" y="160.0" width="1.7" height="19.3" fill="#2fa69a"/>
<path d="M766.0 152.0V168.5" stroke="#2fa69a" stroke-width="0.9"/>
<rect x="765.1" y="152.0" width="1.7" height="14.0" fill="#2fa69a"/>
<path d="M767.5 150.2V154.0" stroke="#f4564e" stroke-width="0.9"/>
<rect x="766.6" y="151.2" width="1.7" height="2.8" fill="#f4564e"/>
<path d="M769.0 151.2V158.5" stroke="#f4564e" stroke-width="0.9"/>
<rect x="768.1" y="151.2" width="1.7" height="5.8" fill="#f4564e"/>
<path d="M770.5 153.5V159.0" stroke="#f4564e" stroke-width="0.9"/>
<rect x="769.6" y="155.0" width="1.7" height="4.0" fill="#f4564e"/>
<path d="M772.0 156.6V162.5" stroke="#f4564e" stroke-width="0.9"/>
<rect x="771.1" y="156.6" width="1.7" height="4.4" fill="#f4564e"/>
<path d="M773.5 159.0V161.8" stroke="#2fa69a" stroke-width="0.9"/>
<rect x="772.6" y="159.0" width="1.7" height="2.8" fill="#2fa69a"/>
<path d="M775.0 157.0V162.3" stroke="#2fa69a" stroke-width="0.9"/>
<rect x="774.1" y="157.0" width="1.7" height="4.8" fill="#2fa69a"/>
<path d="M776.5 152.8V160.5" stroke="#f4564e" stroke-width="0.9"/>
<rect x="775.6" y="155.3" width="1.7" height="2.7" fill="#f4564e"/>
<path d="M778.0 155.0V161.3" stroke="#2fa69a" stroke-width="0.9"/>
<rect x="777.1" y="155.0" width="1.7" height="4.8" fill="#2fa69a"/>
<path d="M779.5 151.5V157.5" stroke="#2fa69a" stroke-width="0.9"/>
<rect x="778.6" y="153.0" width="1.7" height="4.0" fill="#2fa69a"/>
<path d="M781.0 151.7V154.5" stroke="#f4564e" stroke-width="0.9"/>
<rect x="780.1" y="151.7" width="1.7" height="2.3" fill="#f4564e"/>
<path d="M782.5 150.5V155.8" stroke="#2fa69a" stroke-width="0.9"/>
<rect x="781.6" y="151.0" width="1.7" height="4.8" fill="#2fa69a"/>
<path d="M784.0 149.5V154.4" stroke="#2fa69a" stroke-width="0.9"/>
<rect x="783.1" y="150.0" width="1.7" height="3.4" fill="#2fa69a"/>
<path d="M785.5 148.2V153.5" stroke="#f4564e" stroke-width="0.9"/>
<rect x="784.6" y="148.7" width="1.7" height="2.3" fill="#f4564e"/>
<path d="M787.0 149.0V150.5" stroke="#2fa69a" stroke-width="0.9"/>
<rect x="786.1" y="149.0" width="1.7" height="1.5" fill="#2fa69a"/>
<path d="M788.5 147.0V153.5" stroke="#f4564e" stroke-width="0.9"/>
<rect x="787.6" y="148.5" width="1.7" height="2.5" fill="#f4564e"/>
<path d="M790.0 148.0V152.8" stroke="#2fa69a" stroke-width="0.9"/>
<rect x="789.1" y="148.0" width="1.7" height="3.8" fill="#2fa69a"/>
<path d="M791.5 147.8V151.5" stroke="#f4564e" stroke-width="0.9"/>
<rect x="790.6" y="147.8" width="1.7" height="2.2" fill="#f4564e"/>
<path d="M793.0 147.2V148.7" stroke="#f4564e" stroke-width="0.9"/>
<rect x="792.1" y="147.2" width="1.7" height="1.5" fill="#f4564e"/>
<path d="M794.5 146.7V151.0" stroke="#f4564e" stroke-width="0.9"/>
<rect x="793.6" y="147.7" width="1.7" height="3.3" fill="#f4564e"/>
<path d="M796.0 149.0V152.3" stroke="#2fa69a" stroke-width="0.9"/>
<rect x="795.1" y="149.0" width="1.7" height="2.8" fill="#2fa69a"/>
<path d="M797.5 145.7V153.5" stroke="#f4564e" stroke-width="0.9"/>
<rect x="796.6" y="148.2" width="1.7" height="2.8" fill="#f4564e"/>
<path d="M799.0 147.2V149.0" stroke="#f4564e" stroke-width="0.9"/>
<rect x="798.1" y="147.2" width="1.7" height="1.8" fill="#f4564e"/>
<path d="M800.5 148.9V152.5" stroke="#f4564e" stroke-width="0.9"/>
<rect x="799.6" y="148.9" width="1.7" height="3.1" fill="#f4564e"/>
<path d="M802.0 147.0V154.3" stroke="#2fa69a" stroke-width="0.9"/>
<rect x="801.1" y="148.0" width="1.7" height="4.8" fill="#2fa69a"/>
<path d="M803.5 141.5V153.5" stroke="#2fa69a" stroke-width="0.9"/>
<rect x="802.6" y="143.0" width="1.7" height="9.5" fill="#2fa69a"/>
<path d="M805.0 139.0V148.8" stroke="#2fa69a" stroke-width="0.9"/>
<rect x="804.1" y="139.0" width="1.7" height="8.3" fill="#2fa69a"/>
<path d="M806.5 135.0V144.4" stroke="#2fa69a" stroke-width="0.9"/>
<rect x="805.6" y="135.0" width="1.7" height="8.4" fill="#2fa69a"/>
<path d="M808.0 128.5V138.8" stroke="#2fa69a" stroke-width="0.9"/>
<rect x="807.1" y="131.0" width="1.7" height="7.8" fill="#2fa69a"/>
<path d="M809.5 125.0V135.8" stroke="#2fa69a" stroke-width="0.9"/>
<rect x="808.6" y="128.0" width="1.7" height="6.8" fill="#2fa69a"/>
<path d="M811.0 126.7V130.0" stroke="#f4564e" stroke-width="0.9"/>
<rect x="810.1" y="127.2" width="1.7" height="1.8" fill="#f4564e"/>
<path d="M812.5 127.7V130.0" stroke="#f4564e" stroke-width="0.9"/>
<rect x="811.6" y="127.7" width="1.7" height="2.3" fill="#f4564e"/>
<path d="M814.0 125.7V136.5" stroke="#f4564e" stroke-width="0.9"/>
<rect x="813.1" y="127.2" width="1.7" height="6.8" fill="#f4564e"/>
<path d="M815.5 130.1V138.0" stroke="#f4564e" stroke-width="0.9"/>
<rect x="814.6" y="130.1" width="1.7" height="6.9" fill="#f4564e"/>
<path d="M817.0 131.7V140.0" stroke="#f4564e" stroke-width="0.9"/>
<rect x="816.1" y="133.2" width="1.7" height="6.8" fill="#f4564e"/>
<path d="M818.5 137.9V141.0" stroke="#f4564e" stroke-width="0.9"/>
<rect x="817.6" y="137.9" width="1.7" height="3.1" fill="#f4564e"/>
<path d="M820.0 138.5V144.4" stroke="#2fa69a" stroke-width="0.9"/>
<rect x="819.1" y="139.0" width="1.7" height="4.4" fill="#2fa69a"/>
<path d="M821.5 135.7V143.0" stroke="#f4564e" stroke-width="0.9"/>
<rect x="820.6" y="138.2" width="1.7" height="4.8" fill="#f4564e"/>
<path d="M823.0 140.2V146.0" stroke="#f4564e" stroke-width="0.9"/>
<rect x="822.1" y="140.2" width="1.7" height="4.8" fill="#f4564e"/>
<path d="M824.5 143.5V147.9" stroke="#2fa69a" stroke-width="0.9"/>
<rect x="823.6" y="144.0" width="1.7" height="2.4" fill="#2fa69a"/>
<path d="M826.0 141.2V147.5" stroke="#f4564e" stroke-width="0.9"/>
<rect x="825.1" y="142.2" width="1.7" height="4.8" fill="#f4564e"/>
<path d="M827.5 145.0V150.0" stroke="#f4564e" stroke-width="0.9"/>
<rect x="826.6" y="145.0" width="1.7" height="4.0" fill="#f4564e"/>
<path d="M829.0 145.8V150.0" stroke="#f4564e" stroke-width="0.9"/>
<rect x="828.1" y="146.3" width="1.7" height="3.7" fill="#f4564e"/>
<path d="M830.5 145.2V172.5" stroke="#f4564e" stroke-width="0.9"/>
<rect x="829.6" y="146.2" width="1.7" height="23.8" fill="#f4564e"/>
<path d="M832.0 156.8V193.0" stroke="#f4564e" stroke-width="0.9"/>
<rect x="831.1" y="159.3" width="1.7" height="33.7" fill="#f4564e"/>
<path d="M833.5 187.5V197.1" stroke="#2fa69a" stroke-width="0.9"/>
<rect x="832.6" y="188.0" width="1.7" height="9.1" fill="#2fa69a"/>
<path d="M835.0 182.7V195.5" stroke="#f4564e" stroke-width="0.9"/>
<rect x="834.1" y="182.7" width="1.7" height="12.3" fill="#f4564e"/>
<path d="M836.5 189.5V204.0" stroke="#f4564e" stroke-width="0.9"/>
<rect x="835.6" y="192.0" width="1.7" height="6.0" fill="#f4564e"/>
<path d="M838.0 188.5V198.3" stroke="#2fa69a" stroke-width="0.9"/>
<rect x="837.1" y="190.0" width="1.7" height="8.3" fill="#2fa69a"/>
<path d="M839.5 197.0V198.5" stroke="#2fa69a" stroke-width="0.9"/>
<rect x="838.6" y="197.0" width="1.7" height="1.5" fill="#2fa69a"/>
<path d="M841.0 192.0V200.8" stroke="#2fa69a" stroke-width="0.9"/>
<rect x="840.1" y="192.0" width="1.7" height="6.3" fill="#2fa69a"/>
<path d="M842.5 190.9V196.0" stroke="#f4564e" stroke-width="0.9"/>
<rect x="841.6" y="190.9" width="1.7" height="5.1" fill="#f4564e"/>
<path d="M844.0 189.5V197.8" stroke="#2fa69a" stroke-width="0.9"/>
<rect x="843.1" y="190.0" width="1.7" height="6.3" fill="#2fa69a"/>
<path d="M845.5 195.0V196.5" stroke="#2fa69a" stroke-width="0.9"/>
<rect x="844.6" y="195.0" width="1.7" height="1.5" fill="#2fa69a"/>
<path d="M847.0 187.0V197.6" stroke="#2fa69a" stroke-width="0.9"/>
<rect x="846.1" y="188.0" width="1.7" height="8.1" fill="#2fa69a"/>
<path d="M848.5 187.2V194.0" stroke="#f4564e" stroke-width="0.9"/>
<rect x="847.6" y="187.2" width="1.7" height="6.8" fill="#f4564e"/>
<path d="M850.0 186.5V193.9" stroke="#2fa69a" stroke-width="0.9"/>
<rect x="849.1" y="187.0" width="1.7" height="6.9" fill="#2fa69a"/>
<path d="M851.5 190.5V194.5" stroke="#2fa69a" stroke-width="0.9"/>
<rect x="850.6" y="193.0" width="1.7" height="1.5" fill="#2fa69a"/>
<path d="M853.0 186.5V194.1" stroke="#2fa69a" stroke-width="0.9"/>
<rect x="852.1" y="188.0" width="1.7" height="6.1" fill="#2fa69a"/>
<path d="M854.5 187.2V193.0" stroke="#f4564e" stroke-width="0.9"/>
<rect x="853.6" y="187.2" width="1.7" height="4.8" fill="#f4564e"/>
<path d="M856.0 187.2V198.0" stroke="#f4564e" stroke-width="0.9"/>
<rect x="855.1" y="187.2" width="1.7" height="10.8" fill="#f4564e"/>
<path d="M857.5 190.0V202.3" stroke="#2fa69a" stroke-width="0.9"/>
<rect x="856.6" y="190.0" width="1.7" height="9.8" fill="#2fa69a"/>
<path d="M859.0 197.2V201.0" stroke="#f4564e" stroke-width="0.9"/>
<rect x="858.1" y="197.2" width="1.7" height="2.8" fill="#f4564e"/>
<path d="M860.5 191.5V199.9" stroke="#2fa69a" stroke-width="0.9"/>
<rect x="859.6" y="192.0" width="1.7" height="7.9" fill="#2fa69a"/>
<path d="M862.0 190.2V202.0" stroke="#f4564e" stroke-width="0.9"/>
<rect x="861.1" y="191.2" width="1.7" height="9.8" fill="#f4564e"/>
<path d="M863.5 193.0V198.8" stroke="#2fa69a" stroke-width="0.9"/>
<rect x="862.6" y="193.0" width="1.7" height="5.8" fill="#2fa69a"/>
<path d="M865.0 198.5V200.8" stroke="#2fa69a" stroke-width="0.9"/>
<rect x="864.1" y="199.0" width="1.7" height="1.8" fill="#2fa69a"/>
<path d="M866.5 192.0V201.7" stroke="#2fa69a" stroke-width="0.9"/>
<rect x="865.6" y="192.0" width="1.7" height="8.2" fill="#2fa69a"/>
<path d="M868.0 185.5V197.1" stroke="#2fa69a" stroke-width="0.9"/>
<rect x="867.1" y="186.0" width="1.7" height="11.1" fill="#2fa69a"/>
<path d="M869.5 183.0V189.7" stroke="#2fa69a" stroke-width="0.9"/>
<rect x="868.6" y="183.0" width="1.7" height="6.7" fill="#2fa69a"/>
<path d="M871.0 175.0V191.7" stroke="#2fa69a" stroke-width="0.9"/>
<rect x="870.1" y="175.0" width="1.7" height="15.2" fill="#2fa69a"/>
<path d="M872.5 163.5V183.6" stroke="#2fa69a" stroke-width="0.9"/>
<rect x="871.6" y="166.0" width="1.7" height="17.1" fill="#2fa69a"/>
<path d="M874.0 158.0V172.2" stroke="#2fa69a" stroke-width="0.9"/>
<rect x="873.1" y="161.0" width="1.7" height="9.7" fill="#2fa69a"/>
<path d="M875.5 160.2V168.0" stroke="#f4564e" stroke-width="0.9"/>
<rect x="874.6" y="160.2" width="1.7" height="7.8" fill="#f4564e"/>
<path d="M877.0 158.9V178.5" stroke="#f4564e" stroke-width="0.9"/>
<rect x="876.1" y="160.4" width="1.7" height="15.6" fill="#f4564e"/>
<path d="M878.5 166.9V184.0" stroke="#f4564e" stroke-width="0.9"/>
<rect x="877.6" y="169.4" width="1.7" height="14.6" fill="#f4564e"/>
<path d="M880.0 175.0V187.0" stroke="#2fa69a" stroke-width="0.9"/>
<rect x="879.1" y="175.0" width="1.7" height="11.0" fill="#2fa69a"/>
<path d="M881.5 184.1V190.5" stroke="#f4564e" stroke-width="0.9"/>
<rect x="880.6" y="184.1" width="1.7" height="3.9" fill="#f4564e"/>
<path d="M883.0 180.0V203.0" stroke="#2fa69a" stroke-width="0.9"/>
<rect x="882.1" y="180.0" width="1.7" height="5.5" fill="#2fa69a"/>
<path d="M884.5 179.2V190.0" stroke="#f4564e" stroke-width="0.9"/>
<rect x="883.6" y="179.2" width="1.7" height="10.8" fill="#f4564e"/>
<path d="M886.0 178.9V184.0" stroke="#f4564e" stroke-width="0.9"/>
<rect x="885.1" y="178.9" width="1.7" height="5.1" fill="#f4564e"/>
<path d="M887.5 177.5V185.8" stroke="#2fa69a" stroke-width="0.9"/>
<rect x="886.6" y="180.0" width="1.7" height="4.8" fill="#2fa69a"/>
<path d="M889.0 178.4V183.5" stroke="#f4564e" stroke-width="0.9"/>
<rect x="888.1" y="178.4" width="1.7" height="3.6" fill="#f4564e"/>
<path d="M890.5 176.0V179.7" stroke="#2fa69a" stroke-width="0.9"/>
<rect x="889.6" y="176.0" width="1.7" height="3.7" fill="#2fa69a"/>
<path d="M892.0 176.4V180.4" stroke="#f4564e" stroke-width="0.9"/>
<rect x="891.1" y="177.4" width="1.7" height="1.5" fill="#f4564e"/>
<path d="M893.5 170.0V178.8" stroke="#2fa69a" stroke-width="0.9"/>
<rect x="892.6" y="171.0" width="1.7" height="7.8" fill="#2fa69a"/>
<path d="M895.0 168.0V175.4" stroke="#2fa69a" stroke-width="0.9"/>
<rect x="894.1" y="168.0" width="1.7" height="6.9" fill="#2fa69a"/>
<path d="M896.5 164.5V170.1" stroke="#2fa69a" stroke-width="0.9"/>
<rect x="895.6" y="166.0" width="1.7" height="4.1" fill="#2fa69a"/>
<path d="M898.0 160.0V171.5" stroke="#2fa69a" stroke-width="0.9"/>
<rect x="897.1" y="160.0" width="1.7" height="10.5" fill="#2fa69a"/>
<path d="M899.5 155.0V165.4" stroke="#2fa69a" stroke-width="0.9"/>
<rect x="898.6" y="155.0" width="1.7" height="9.4" fill="#2fa69a"/>
<path d="M901.0 150.0V159.9" stroke="#2fa69a" stroke-width="0.9"/>
<rect x="900.1" y="150.0" width="1.7" height="9.4" fill="#2fa69a"/>
<path d="M902.5 146.0V153.4" stroke="#2fa69a" stroke-width="0.9"/>
<rect x="901.6" y="147.0" width="1.7" height="6.4" fill="#2fa69a"/>
<path d="M904.0 145.2V154.5" stroke="#f4564e" stroke-width="0.9"/>
<rect x="903.1" y="146.2" width="1.7" height="5.8" fill="#f4564e"/>
<path d="M905.5 139.7V156.6" stroke="#2fa69a" stroke-width="0.9"/>
<rect x="904.6" y="147.0" width="1.7" height="9.6" fill="#2fa69a"/>
<path d="M907.0 146.2V157.5" stroke="#f4564e" stroke-width="0.9"/>
<rect x="906.1" y="146.2" width="1.7" height="9.8" fill="#f4564e"/>
<path d="M908.5 149.8V164.0" stroke="#f4564e" stroke-width="0.9"/>
<rect x="907.6" y="149.8" width="1.7" height="14.2" fill="#f4564e"/>
<path d="M910.0 157.5V163.3" stroke="#2fa69a" stroke-width="0.9"/>
<rect x="909.1" y="160.0" width="1.7" height="1.8" fill="#2fa69a"/>
<path d="M911.5 162.0V167.5" stroke="#f4564e" stroke-width="0.9"/>
<rect x="910.6" y="162.5" width="1.7" height="2.5" fill="#f4564e"/>
<path d="M913.0 161.0V164.7" stroke="#2fa69a" stroke-width="0.9"/>
<rect x="912.1" y="161.0" width="1.7" height="3.7" fill="#2fa69a"/>
<path d="M914.5 159.2V166.0" stroke="#f4564e" stroke-width="0.9"/>
<rect x="913.6" y="160.2" width="1.7" height="5.8" fill="#f4564e"/>
<path d="M916.0 159.0V166.8" stroke="#2fa69a" stroke-width="0.9"/>
<rect x="915.1" y="160.0" width="1.7" height="6.3" fill="#2fa69a"/>
<path d="M917.5 164.0V168.0" stroke="#2fa69a" stroke-width="0.9"/>
<rect x="916.6" y="165.0" width="1.7" height="1.5" fill="#2fa69a"/>
<path d="M919.0 161.0V166.0" stroke="#2fa69a" stroke-width="0.9"/>
<rect x="918.1" y="161.0" width="1.7" height="5.0" fill="#2fa69a"/>
<path d="M920.5 155.0V164.9" stroke="#2fa69a" stroke-width="0.9"/>
<rect x="919.6" y="156.0" width="1.7" height="8.9" fill="#2fa69a"/>
<path d="M922.0 148.0V160.5" stroke="#2fa69a" stroke-width="0.9"/>
<rect x="921.1" y="151.0" width="1.7" height="9.5" fill="#2fa69a"/>
<path d="M923.5 147.7V153.0" stroke="#f4564e" stroke-width="0.9"/>
<rect x="922.6" y="150.2" width="1.7" height="2.8" fill="#f4564e"/>
<path d="M925.0 149.2V159.5" stroke="#f4564e" stroke-width="0.9"/>
<rect x="924.1" y="150.2" width="1.7" height="7.8" fill="#f4564e"/>
<path d="M926.5 152.6V163.5" stroke="#f4564e" stroke-width="0.9"/>
<rect x="925.6" y="152.6" width="1.7" height="10.4" fill="#f4564e"/>
<path d="M928.0 155.0V165.8" stroke="#2fa69a" stroke-width="0.9"/>
<rect x="927.1" y="156.0" width="1.7" height="8.3" fill="#2fa69a"/>
<path d="M929.5 160.5V164.5" stroke="#f4564e" stroke-width="0.9"/>
<rect x="928.6" y="162.0" width="1.7" height="2.0" fill="#f4564e"/>
<path d="M931.0 155.0V164.9" stroke="#2fa69a" stroke-width="0.9"/>
<rect x="930.1" y="155.0" width="1.7" height="8.9" fill="#2fa69a"/>
<path d="M932.5 154.2V163.5" stroke="#f4564e" stroke-width="0.9"/>
<rect x="931.6" y="154.2" width="1.7" height="7.8" fill="#f4564e"/>
<path d="M934.0 155.5V164.6" stroke="#2fa69a" stroke-width="0.9"/>
<rect x="933.1" y="157.0" width="1.7" height="5.1" fill="#2fa69a"/>
<path d="M935.5 160.6V167.0" stroke="#f4564e" stroke-width="0.9"/>
<rect x="934.6" y="161.6" width="1.7" height="5.4" fill="#f4564e"/>
<path d="M937.0 160.5V166.4" stroke="#2fa69a" stroke-width="0.9"/>
<rect x="936.1" y="161.0" width="1.7" height="3.9" fill="#2fa69a"/>
<path d="M938.5 160.2V167.5" stroke="#f4564e" stroke-width="0.9"/>
<rect x="937.6" y="160.2" width="1.7" height="5.8" fill="#f4564e"/>
<path d="M940.0 160.0V166.3" stroke="#2fa69a" stroke-width="0.9"/>
<rect x="939.1" y="160.0" width="1.7" height="6.3" fill="#2fa69a"/>
<path d="M941.5 165.0V166.5" stroke="#2fa69a" stroke-width="0.9"/>
<rect x="940.6" y="165.0" width="1.7" height="1.5" fill="#2fa69a"/>
<path d="M943.0 161.0V166.2" stroke="#2fa69a" stroke-width="0.9"/>
<rect x="942.1" y="161.0" width="1.7" height="5.2" fill="#2fa69a"/>
<path d="M944.5 158.5V166.0" stroke="#2fa69a" stroke-width="0.9"/>
<rect x="943.6" y="160.0" width="1.7" height="3.5" fill="#2fa69a"/>
<path d="M946.0 154.0V164.1" stroke="#2fa69a" stroke-width="0.9"/>
<rect x="945.1" y="154.0" width="1.7" height="10.1" fill="#2fa69a"/>
<path d="M947.5 151.6V160.5" stroke="#f4564e" stroke-width="0.9"/>
<rect x="946.6" y="153.1" width="1.7" height="6.9" fill="#f4564e"/>
<path d="M949.0 152.0V155.3" stroke="#2fa69a" stroke-width="0.9"/>
<rect x="948.1" y="153.0" width="1.7" height="2.3" fill="#2fa69a"/>
<path d="M950.5 154.0V162.0" stroke="#f4564e" stroke-width="0.9"/>
<rect x="949.6" y="154.0" width="1.7" height="8.0" fill="#f4564e"/>
<path d="M952.0 156.0V162.8" stroke="#2fa69a" stroke-width="0.9"/>
<rect x="951.1" y="156.0" width="1.7" height="6.8" fill="#2fa69a"/>
<path d="M953.5 150.0V163.4" stroke="#2fa69a" stroke-width="0.9"/>
<rect x="952.6" y="150.0" width="1.7" height="10.9" fill="#2fa69a"/>
<path d="M955.0 142.0V158.7" stroke="#2fa69a" stroke-width="0.9"/>
<rect x="954.1" y="142.0" width="1.7" height="15.2" fill="#2fa69a"/>
<path d="M956.5 135.0V149.3" stroke="#2fa69a" stroke-width="0.9"/>
<rect x="955.6" y="135.0" width="1.7" height="13.8" fill="#2fa69a"/>
<path d="M958.0 128.5V139.2" stroke="#2fa69a" stroke-width="0.9"/>
<rect x="957.1" y="131.0" width="1.7" height="7.7" fill="#2fa69a"/>
<path d="M959.5 129.0V137.5" stroke="#f4564e" stroke-width="0.9"/>
<rect x="958.6" y="130.2" width="1.7" height="5.8" fill="#f4564e"/>
<path d="M961.0 127.7V147.0" stroke="#f4564e" stroke-width="0.9"/>
<rect x="960.1" y="130.2" width="1.7" height="15.8" fill="#f4564e"/>
<path d="M962.5 136.1V156.0" stroke="#f4564e" stroke-width="0.9"/>
<rect x="961.6" y="138.6" width="1.7" height="16.4" fill="#f4564e"/>
<path d="M964.0 145.5V155.8" stroke="#2fa69a" stroke-width="0.9"/>
<rect x="963.1" y="148.0" width="1.7" height="7.8" fill="#2fa69a"/>
<path d="M965.5 138.5V154.6" stroke="#2fa69a" stroke-width="0.9"/>
<rect x="964.6" y="140.0" width="1.7" height="14.6" fill="#2fa69a"/>
<path d="M967.0 136.0V146.6" stroke="#2fa69a" stroke-width="0.9"/>
<rect x="966.1" y="136.0" width="1.7" height="8.1" fill="#2fa69a"/>
<path d="M968.5 134.2V145.0" stroke="#f4564e" stroke-width="0.9"/>
<rect x="967.6" y="135.2" width="1.7" height="8.8" fill="#f4564e"/>
<path d="M970.0 138.0V148.6" stroke="#2fa69a" stroke-width="0.9"/>
<rect x="969.1" y="138.0" width="1.7" height="10.6" fill="#2fa69a"/>
<path d="M971.5 135.2V147.0" stroke="#f4564e" stroke-width="0.9"/>
<rect x="970.6" y="135.2" width="1.7" height="11.8" fill="#f4564e"/>
<path d="M973.0 142.1V152.0" stroke="#f4564e" stroke-width="0.9"/>
<rect x="972.1" y="142.1" width="1.7" height="9.9" fill="#f4564e"/>
<path d="M974.5 143.5V152.8" stroke="#2fa69a" stroke-width="0.9"/>
<rect x="973.6" y="145.0" width="1.7" height="7.8" fill="#2fa69a"/>
<path d="M976.0 140.0V150.4" stroke="#2fa69a" stroke-width="0.9"/>
<rect x="975.1" y="140.0" width="1.7" height="8.9" fill="#2fa69a"/>
<path d="M977.5 136.0V145.7" stroke="#2fa69a" stroke-width="0.9"/>
<rect x="976.6" y="136.0" width="1.7" height="8.2" fill="#2fa69a"/>
<path d="M979.0 131.0V139.9" stroke="#2fa69a" stroke-width="0.9"/>
<rect x="978.1" y="131.0" width="1.7" height="8.9" fill="#2fa69a"/>
<path d="M980.5 125.5V134.9" stroke="#2fa69a" stroke-width="0.9"/>
<rect x="979.6" y="128.0" width="1.7" height="6.9" fill="#2fa69a"/>
<path d="M982.0 124.5V130.3" stroke="#2fa69a" stroke-width="0.9"/>
<rect x="981.1" y="127.0" width="1.7" height="2.3" fill="#2fa69a"/>
<path d="M983.5 126.2V132.5" stroke="#f4564e" stroke-width="0.9"/>
<rect x="982.6" y="126.2" width="1.7" height="3.8" fill="#f4564e"/>
<path d="M985.0 126.5V133.5" stroke="#2fa69a" stroke-width="0.9"/>
<rect x="984.1" y="128.0" width="1.7" height="5.0" fill="#2fa69a"/>
<path d="M986.5 126.2V133.0" stroke="#f4564e" stroke-width="0.9"/>
<rect x="985.6" y="126.2" width="1.7" height="6.8" fill="#f4564e"/>
<path d="M988.0 129.0V140.5" stroke="#f4564e" stroke-width="0.9"/>
<rect x="987.1" y="129.0" width="1.7" height="9.0" fill="#f4564e"/>
<path d="M989.5 130.9V143.5" stroke="#f4564e" stroke-width="0.9"/>
<rect x="988.6" y="133.4" width="1.7" height="8.6" fill="#f4564e"/>
<path d="M991.0 136.3V147.5" stroke="#f4564e" stroke-width="0.9"/>
<rect x="990.1" y="138.8" width="1.7" height="7.2" fill="#f4564e"/>
<path d="M992.5 142.0V149.0" stroke="#f4564e" stroke-width="0.9"/>
<rect x="991.6" y="142.5" width="1.7" height="6.5" fill="#f4564e"/>
<path d="M994.0 133.0V152.3" stroke="#2fa69a" stroke-width="0.9"/>
<rect x="993.1" y="135.0" width="1.7" height="14.8" fill="#2fa69a"/>
<circle cx="256" cy="145" r="1.2" fill="#2fa69a"/>
<path d="M225.0 223.0C227.5 220.3 235.3 211.3 240.0 207.0C244.7 202.7 248.5 201.7 253.0 197.0C257.5 192.3 263.7 184.8 267.0 179.0C270.3 173.2 270.5 167.2 273.0 162.0C275.5 156.8 277.8 151.2 282.0 148.0C286.2 144.8 293.0 142.2 298.0 143.0C303.0 143.8 307.8 149.3 312.0 152.5C316.2 155.7 318.8 158.2 323.0 162.0C327.2 165.8 333.0 170.0 337.0 175.0C341.0 180.0 344.0 185.7 347.0 192.0C350.0 198.3 353.2 207.8 355.0 213.0C356.8 218.2 356.3 220.5 358.0 223.0C359.7 225.5 363.0 226.3 365.0 228.0C367.0 229.7 368.0 231.0 370.0 233.0C372.0 235.0 375.1 237.8 377.0 240.0C378.9 242.2 379.0 242.5 381.7 246.0C384.4 249.5 389.5 259.7 393.0 261.0C396.5 262.3 399.4 256.3 402.7 254.0C406.0 251.7 409.5 247.6 413.0 247.0C416.5 246.4 420.5 249.7 423.7 250.5C426.9 251.3 428.4 252.8 432.0 251.6C435.6 250.4 440.5 245.8 445.0 243.5C449.5 241.2 454.6 239.2 458.8 237.6C463.1 236.0 467.0 234.0 470.5 234.0C474.0 234.0 476.9 236.0 480.0 237.6C483.1 239.2 485.5 243.5 489.0 243.5C492.5 243.5 496.7 239.8 501.0 237.6C505.3 235.4 510.3 233.5 515.0 230.6C519.7 227.7 525.2 222.9 529.0 220.0C532.8 217.1 534.2 215.5 538.0 213.0C541.8 210.5 547.7 207.2 552.0 205.0C556.3 202.8 560.1 200.6 564.0 200.0C567.9 199.4 571.8 200.6 575.6 201.4C579.4 202.2 583.1 203.4 587.0 205.0C590.9 206.6 595.8 209.0 599.0 210.7C602.2 212.4 603.5 213.5 606.0 215.0C608.5 216.5 610.3 218.2 614.0 219.8C617.7 221.4 622.5 224.9 628.0 224.5C633.5 224.1 641.6 219.1 646.7 217.5C651.8 215.9 654.5 216.9 658.4 215.0C662.3 213.1 665.3 208.7 670.0 205.8C674.7 202.9 681.3 199.3 686.4 197.6C691.5 195.8 695.8 196.3 700.5 195.3C705.2 194.3 710.2 191.8 714.5 191.8C718.8 191.8 722.1 194.4 726.0 195.3C729.9 196.2 734.0 197.6 737.9 197.0C741.8 196.4 745.2 193.8 749.5 191.8C753.8 189.8 758.9 187.1 763.6 184.8C768.3 182.5 772.5 180.3 777.6 177.8C782.7 175.3 789.3 172.3 794.0 169.6C798.7 166.9 802.1 164.1 805.6 161.4C809.1 158.7 811.1 154.9 815.0 153.2C818.9 151.4 824.8 151.0 829.0 150.9C833.2 150.8 837.6 152.3 840.0 152.8C842.4 153.3 840.5 152.4 843.4 153.7C846.3 155.0 852.3 158.1 857.4 160.7C862.5 163.2 868.6 166.4 873.7 169.0C878.8 171.6 883.9 173.9 887.8 176.0C891.7 178.1 893.5 180.3 897.0 181.3C900.5 182.3 904.9 182.7 908.8 181.8C912.7 180.9 916.6 178.0 920.5 176.0C924.4 174.0 927.8 171.8 932.0 170.0C936.2 168.2 941.7 166.7 946.0 165.4C950.3 164.1 954.1 163.6 958.0 162.0C961.9 160.4 965.7 157.7 969.5 156.0C973.3 154.3 977.9 152.9 981.0 151.9C984.1 150.9 985.8 150.7 988.2 150.2C990.6 149.7 994.0 149.2 995.2 149.0" fill="none" stroke="#1fd80a" stroke-width="1" stroke-linejoin="round"/>
<path d="M454.0 207.0C456.3 207.5 462.5 209.4 468.0 210.0C473.5 210.6 480.8 210.7 487.0 210.7C493.2 210.7 499.7 210.5 505.5 209.8C511.3 209.1 517.3 207.1 522.0 206.5C526.7 205.9 529.2 206.0 533.5 206.5C537.8 207.0 542.4 208.7 547.5 209.6C552.6 210.5 559.3 210.8 564.0 212.0C568.7 213.2 571.8 214.5 575.6 216.6C579.4 218.7 583.1 222.9 587.0 224.8C590.9 226.7 595.2 227.0 599.0 228.0C602.8 229.0 605.9 230.0 610.0 230.6C614.1 231.2 618.1 232.1 623.4 231.5C628.7 230.9 636.6 227.9 642.0 226.8C647.4 225.7 653.7 225.3 656.0 225.0" fill="none" stroke="#e01414" stroke-width="1" stroke-linejoin="round"/>
<path d="M665.4 224.5C668.5 223.5 677.8 220.2 684.0 218.6C690.2 217.0 696.5 216.0 702.8 215.0C709.0 214.0 715.3 213.6 721.5 212.8C727.7 212.1 734.6 211.5 740.0 210.5C745.4 209.5 749.3 208.2 754.0 207.0C758.7 205.8 762.5 205.1 768.0 203.5C773.5 201.9 780.7 199.5 787.0 197.6C793.3 195.7 800.2 193.3 805.6 191.8C811.0 190.3 813.9 189.2 819.6 188.7C825.3 188.2 836.0 188.9 840.0 188.7C844.0 188.5 838.9 187.8 843.4 187.6C847.9 187.4 860.5 188.2 866.7 187.6C872.9 187.0 875.2 185.2 880.7 184.0C886.2 182.8 893.2 181.7 899.4 180.6C905.6 179.5 911.8 178.6 918.0 177.6C924.2 176.6 930.1 175.7 936.8 174.8C943.5 173.9 954.5 172.8 958.0 172.4" fill="none" stroke="#e01414" stroke-width="1" stroke-linejoin="round"/>
<path d="M965.0 171.3C968.1 170.8 978.6 169.0 983.6 168.2C988.6 167.4 992.9 166.7 994.8 166.4" fill="none" stroke="#e01414" stroke-width="1" stroke-linejoin="round"/>
<path d="M177.5 218.0C180.1 216.3 189.6 208.8 193.3 208.0C197.1 207.2 196.4 208.0 200.0 213.0C203.6 218.0 211.2 234.7 215.0 238.0C218.8 241.3 221.1 238.2 223.0 233.0C224.9 227.8 225.0 216.4 226.7 207.0C228.4 197.6 231.2 184.1 233.3 176.7C235.4 169.3 237.4 163.6 239.0 162.5C240.6 161.4 240.9 167.1 243.0 170.0C245.1 172.9 249.4 180.0 251.7 180.0C254.0 180.0 254.8 175.0 256.7 170.0C258.6 165.0 261.2 155.0 263.0 150.0C264.8 145.0 266.0 144.2 267.5 140.0C269.0 135.8 270.4 129.7 272.0 125.0C273.6 120.3 275.5 115.2 277.0 112.0C278.5 108.8 279.7 104.7 281.0 106.0C282.3 107.3 283.7 114.3 285.0 120.0C286.3 125.7 287.3 134.2 289.0 140.0C290.7 145.8 292.7 150.3 295.0 155.0C297.3 159.7 299.7 163.8 303.0 168.0C306.3 172.2 312.2 175.0 315.0 180.0C317.8 185.0 318.7 191.3 320.0 198.0C321.3 204.7 321.3 213.3 323.0 220.0C324.7 226.7 328.3 235.8 330.0 238.0C331.7 240.2 331.7 233.0 333.0 233.0C334.3 233.0 336.0 239.0 338.0 238.0C340.0 237.0 342.2 230.5 345.0 227.0C347.8 223.5 352.8 216.5 355.0 217.0C357.2 217.5 356.8 226.2 358.0 230.0C359.2 233.8 360.7 236.7 362.0 240.0C363.3 243.3 364.7 247.1 366.0 250.0C367.3 252.9 367.8 254.7 370.0 257.5C372.2 260.3 375.3 263.8 379.0 267.0C382.7 270.2 388.5 277.4 392.0 277.0C395.5 276.6 397.5 269.7 400.0 264.5C402.5 259.3 405.0 251.1 407.0 246.0C409.0 240.9 409.2 236.6 412.0 234.0C414.8 231.4 420.7 231.9 424.0 230.6C427.3 229.3 429.3 226.0 432.0 226.0C434.7 226.0 436.7 228.1 440.0 230.6C443.3 233.1 448.1 238.8 452.0 241.0C455.9 243.2 459.7 241.5 463.5 243.5C467.3 245.5 471.3 250.2 475.0 253.0C478.7 255.8 482.9 261.6 485.7 260.0C488.4 258.4 489.4 249.3 491.5 243.5C493.6 237.7 495.8 230.7 498.5 225.0C501.2 219.3 504.5 213.2 508.0 209.6C511.5 206.0 515.7 206.0 519.5 203.7C523.3 201.4 527.5 196.2 531.0 195.6C534.5 195.0 537.4 199.6 540.6 200.0C543.8 200.4 546.9 197.0 550.0 198.0C553.1 199.0 555.5 204.5 559.0 206.0C562.5 207.5 567.8 207.2 571.0 207.0C574.2 206.8 575.7 203.6 578.0 205.0C580.3 206.4 582.3 212.1 585.0 215.4C587.7 218.7 591.5 222.9 594.0 225.0C596.5 227.1 597.3 227.1 600.0 228.0C602.7 228.9 606.9 230.1 610.0 230.5C613.1 230.9 615.7 231.7 618.7 230.3C621.7 228.9 624.7 225.7 628.0 222.0C631.3 218.3 635.0 212.1 638.5 208.0C642.0 203.9 645.3 200.1 649.0 197.6C652.7 195.1 657.0 194.6 660.7 193.0C664.4 191.4 667.9 188.0 671.0 188.0C674.1 188.0 675.6 191.4 679.4 193.0C683.1 194.6 689.2 197.0 693.5 197.6C697.8 198.2 701.5 197.6 705.0 196.4C708.5 195.2 711.8 190.6 714.5 190.6C717.2 190.6 718.0 195.0 721.5 196.4C725.0 197.8 731.6 200.7 735.5 198.8C739.4 196.9 741.9 188.5 745.0 184.8C748.1 181.1 750.9 178.0 754.0 176.6C757.1 175.2 760.4 178.4 763.6 176.6C766.8 174.8 769.1 169.3 773.0 166.0C776.9 162.7 782.3 159.0 787.0 156.7C791.7 154.4 796.7 154.3 801.0 152.0C805.3 149.7 809.5 144.7 812.6 142.7C815.7 140.7 816.9 139.6 819.6 140.0C822.3 140.4 826.7 142.8 829.0 145.0C831.3 147.2 832.4 150.4 833.6 153.0C834.8 155.6 834.4 157.1 836.4 160.7C838.4 164.3 842.6 170.9 845.7 174.8C848.8 178.7 851.5 181.8 855.0 184.0C858.5 186.2 863.2 188.7 866.7 188.3C870.2 187.9 872.5 182.7 876.0 181.8C879.5 180.9 884.3 183.8 887.8 183.0C891.3 182.2 893.9 179.3 897.0 177.0C900.1 174.7 902.9 171.1 906.4 169.0C909.9 166.9 914.1 165.3 918.0 164.3C921.9 163.3 925.9 163.2 929.8 163.0C933.7 162.8 938.0 163.2 941.5 163.0C945.0 162.8 947.7 163.7 950.8 162.0C953.9 160.3 956.9 154.9 960.0 152.6C963.1 150.2 966.4 149.1 969.5 147.9C972.6 146.7 975.8 147.0 978.9 145.6C982.0 144.2 985.5 140.3 988.2 139.7C990.9 139.1 994.0 141.6 995.2 142.0" fill="none" stroke="#b01cc4" stroke-width="1" stroke-linejoin="round"/>
<line x1="259.5" y1="57" x2="1064" y2="160.2" stroke="#08eef6" stroke-width="2.3" stroke-linecap="round"/>
<line x1="314" y1="344.5" x2="1299.3" y2="102.3" stroke="#08eef6" stroke-width="2.3" stroke-linecap="round"/>
<polyline points="168.2,463.0 170.7,448.6 177.0,455.9 181.0,438.3 186.2,437.2 189.3,428.0 192.4,437.2 197.6,441.4 201.7,449.7 208.0,448.6 211.0,452.0 216.2,439.3 222.4,437.2 224.5,417.6 226.6,413.4 229.7,417.6 232.8,420.7 235.9,418.6 238.0,422.8 242.0,445.5 251.4,443.4 255.5,431.0 259.7,423.8 265.9,420.7 270.0,412.4 273.5,412.0 276.2,433.0 280.4,431.0 282.4,447.6 285.5,455.9 290.7,451.7 295.9,443.9 299.0,447.6 305.2,445.0 309.3,442.4 313.5,445.5 315.5,443.4 318.6,459.0 321.7,454.8 329.0,454.8 330.4,438.3 333.0,438.3 335.2,445.5 338.3,443.4 342.4,434.0 348.6,438.3 353.8,432.0 355.9,435.0 356.9,450.7 363.0,449.7 367.3,446.6 372.4,448.6 373.5,440.3 376.6,440.3 379.7,446.6 390.0,443.4 394.2,435.0 398.3,433.0 402.4,424.8 406.6,430.0 410.3,418.6 412.8,438.3 415.9,441.4 423.0,436.2 428.3,435.0 430.4,431.0 434.5,440.3 439.7,441.4 444.0,447.6 447.0,444.5 452.4,448.6 458.6,431.0 460.7,435.0 463.8,448.6 467.0,444.5 471.0,449.7 475.0,442.4 479.3,447.6 482.4,444.5 486.6,443.4 488.6,421.7 494.8,421.7 495.9,424.8 501.0,418.6 503.7,433.0 506.2,425.9 510.3,425.9 512.4,436.2 514.5,433.0 518.6,439.3 522.8,428.0 525.9,428.0 528.0,435.0 531.0,435.0 534.0,445.5 536.2,445.5 540.3,437.2 543.4,439.3 547.6,435.0 551.7,440.3 555.9,451.3 561.0,444.5 566.2,446.6 568.7,438.3 576.6,431.0 578.6,437.2 580.7,448.6 584.8,454.8 589.0,453.8 594.0,447.6 597.2,448.6 599.3,452.8 602.4,444.5 604.5,448.6 607.6,444.5 611.7,439.3 612.8,436.2 614.8,443.4 617.5,437.2 619.0,440.3 624.0,434.0 626.8,424.8 627.9,435.0 630.4,437.2 633.5,433.0 636.6,425.9 642.8,418.6 644.8,420.7 646.9,419.7 651.0,432.0 654.1,436.2 656.2,426.9 658.3,434.0 662.4,429.0 664.5,431.0 666.6,428.0 668.6,432.0 670.7,431.0 673.8,437.2 678.0,444.5 680.4,452.8 682.0,443.4 684.8,439.3 686.2,445.5 688.3,441.4 690.4,444.5 696.6,441.4 700.3,436.2 702.8,438.3 705.9,440.3 708.0,426.9 710.0,433.0 712.0,429.0 715.2,436.2 717.3,446.6 721.4,444.5 726.6,443.4 728.6,440.3 730.7,444.5 733.8,440.3 736.2,439.3 738.7,426.9 742.4,422.8 744.5,429.0 748.6,424.8 750.7,428.0 752.3,437.2 754.8,435.0 758.0,440.3 761.0,437.2 762.7,439.3 764.8,426.9 768.3,431.0 769.7,434.0 775.5,428.0 779.7,430.0 785.9,426.9 790.0,430.0 794.0,429.0 799.3,431.4 802.4,433.0 804.5,421.7 809.7,413.4 811.7,412.4 814.8,418.6 818.0,436.2 821.0,437.2 823.5,444.5 826.2,441.4 829.3,446.6 830.3,464.0 833.4,467.2 836.6,464.0 839.7,466.6 842.8,461.0 845.9,461.0 848.0,453.8 853.0,454.8 856.2,456.9 860.4,444.5 862.4,449.7 866.6,440.3 868.6,443.4 873.8,426.9 874.8,436.2 879.4,444.5 880.6,435.0 883.0,445.5 887.3,440.3 892.4,434.0 894.5,437.2 898.6,432.0 900.0,433.0 901.7,424.8 904.8,433.0 906.9,428.0 910.0,437.2 916.2,436.2 919.3,434.0 921.4,437.2 923.5,431.0 926.0,440.3 931.7,435.0 933.8,437.2 934.8,434.0 937.0,441.4 941.0,438.3 943.0,439.3 946.2,435.0 948.3,436.2 949.7,433.0 951.8,439.3 953.9,429.0 957.6,424.8 960.7,428.0 962.4,440.3 965.9,438.3 967.5,432.0 969.0,437.2 971.0,431.0 976.2,440.3 979.3,435.0 983.5,429.0 986.6,434.0 991.7,444.5 993.8,435.0" fill="none" stroke="#a020b4" stroke-width="1" stroke-linejoin="round"/>
<polyline points="172.4,480.3 177.6,505.2 181.7,475.2 191.0,476.2 194.1,496.9 197.2,502.1 200.3,521.7 204.5,536.2 209.7,533.1 213.8,527.9 215.9,503.1 219.0,484.5 226.2,475.2 230.3,478.3 236.6,488.6 239.7,505.2 242.8,536.2 246.9,536.2 253.1,525.9 257.2,501.0 260.3,477.2 262.4,479.9 267.6,476.2 273.8,475.8 275.9,494.8 277.9,532.1 282.1,532.1 286.2,536.6 292.4,529.0 296.6,514.5 301.7,507.2 304.8,490.7 310.0,479.3 313.1,494.8 316.2,497.9 319.3,515.5 321.4,527.9 324.5,520.7 328.6,519.7 330.7,492.8 333.4,476.2 335.9,490.7 337.9,495.9 342.1,479.3 345.2,479.3 350.3,487.6 355.5,478.3 357.6,515.5 359.7,535.2 363.8,532.1 369.0,525.9 372.1,526.9 376.2,493.8 379.3,497.9 382.4,514.5 385.5,510.3 389.7,507.2 391.7,511.4 393.8,501.0 396.9,477.9 401.0,480.3 404.1,479.3 407.2,487.6 410.3,479.9 413.5,496.9 415.5,523.8 417.6,537.2 421.7,529.0 425.9,520.7 430.0,516.6 433.1,510.3 436.2,521.7 438.3,533.1 441.4,530.0 445.5,537.2 449.7,532.1 453.1,532.1 456.2,501.0 460.3,479.3 462.4,494.8 465.5,532.1 470.7,532.1 474.8,522.8 477.9,520.7 481.0,525.9 484.1,501.0 488.3,477.2 491.4,475.8 496.6,479.3 500.7,477.9 503.8,490.7 505.9,503.1 510.0,503.1 513.1,515.5 516.2,527.9 519.3,532.1 521.4,525.9 523.4,496.9 525.5,485.5 528.6,501.0 531.7,514.5 534.8,523.8 536.9,534.1 541.0,509.3 545.2,508.3 550.3,493.8 553.4,517.6 556.6,533.1 560.7,525.9 564.8,518.6 567.9,501.0 571.0,480.3 574.1,475.2 578.3,477.2 580.3,501.0 582.4,530.0 585.5,537.2 590.7,532.1 595.9,519.7 600.0,517.6 603.1,494.8 607.2,489.7 610.3,481.4 612.4,475.2 615.5,482.4 618.6,490.7 621.7,490.7 625.9,476.2 629.0,496.9 632.1,511.4 635.2,501.0 638.3,480.3 642.4,475.8 646.6,480.3 649.7,488.6 651.7,511.4 654.8,530.0 657.9,519.7 662.1,516.6 669.3,509.3 672.4,519.7 675.5,534.1 679.7,537.2 683.8,519.7 687.9,510.3 692.1,509.3 695.2,496.9 698.3,484.5 702.4,480.3 705.5,489.7 708.6,482.4 711.7,489.7 714.8,496.9 716.9,523.8 719.0,535.2 723.1,530.0 727.2,522.8 731.4,518.6 735.5,501.0 737.6,481.4 740.0,479.3 743.1,477.9 746.2,486.6 750.3,490.7 753.4,511.4 757.6,527.9 760.7,533.1 763.8,523.8 765.9,505.2 768.6,494.8 770.0,504.1 773.1,506.2 778.3,488.6 782.4,487.6 786.6,480.3 790.7,488.6 792.8,502.1 794.8,505.2 797.9,525.9 801.0,533.1 803.1,532.1 804.6,494.8 806.2,475.8 811.4,475.8 815.5,490.7 817.6,505.2 819.7,527.9 821.7,536.2 824.8,536.6 829.0,533.1 834.1,537.2 839.3,535.2 843.4,527.9 847.6,517.6 850.7,494.8 853.8,482.4 856.9,486.6 860.0,479.3 864.1,488.6 867.2,480.3 871.4,481.4 874.1,478.7 876.6,492.8 879.7,506.2 882.8,505.2 885.9,522.8 889.0,516.6 893.1,501.0 897.2,482.4 900.3,476.2 904.5,481.4 907.6,499.0 910.7,518.6 912.8,530.0 915.9,531.0 919.0,525.9 922.1,530.0 924.1,520.7 927.2,523.8 928.3,532.1 931.4,513.4 934.5,505.2 936.6,521.7 938.6,532.1 941.7,523.8 943.8,524.8 946.9,490.7 949.4,479.3 952.1,488.6 954.1,494.8 957.2,478.3 959.7,484.5 961.8,503.1 964.5,525.9 965.5,532.1 968.6,518.6 972.8,506.2 975.9,511.4 977.9,524.8 981.0,501.0 983.1,483.4 985.6,480.3 987.2,490.7 989.3,521.7 991.4,531.0 993.5,523.8 994.5,514.5" fill="none" stroke="#2090f0" stroke-width="1.1" stroke-linejoin="round"/>
<polyline points="175.5,487.7 177.0,495.1 178.6,498.6 180.1,495.8 181.7,486.8 183.2,479.3 184.7,475.5 186.3,475.5 187.8,475.7 189.4,475.8 190.9,476.0 192.4,479.2 194.0,485.8 195.5,493.5 197.1,498.9 198.6,503.9 200.1,510.9 201.7,519.1 203.2,526.2 204.8,531.4 206.3,534.3 207.8,535.1 209.4,534.2 210.9,533.0 212.5,531.5 214.0,528.9 215.5,520.7 217.1,509.5 218.6,496.5 220.2,488.5 221.7,483.5 223.2,481.0 224.8,479.0 226.3,477.1 227.9,476.2 229.4,476.4 230.9,477.7 232.5,479.5 234.0,481.8 235.6,484.4 237.1,487.6 238.6,492.7 240.2,500.5 241.7,511.9 243.3,524.1 244.8,532.7 246.3,536.2 247.9,535.7 249.4,534.3 251.0,532.0 252.5,529.4 254.0,525.5 255.6,519.4 257.1,511.0 258.7,501.0 260.2,490.1 261.7,482.6 263.3,478.9 264.8,478.9 266.4,478.2 267.9,477.2 269.4,476.5 271.0,476.1 272.5,476.0 274.1,476.7 275.6,482.1 277.1,496.1 278.7,514.0 280.2,527.3 281.8,532.1 283.3,532.5 284.8,533.5 286.4,535.0 287.9,535.3 289.5,534.5 291.0,532.6 292.5,530.6 294.1,527.5 295.6,523.2 297.2,518.2 298.7,514.3 300.2,511.5 301.8,509.3 303.3,505.0 304.9,498.8 306.4,492.2 307.9,487.2 309.5,483.9 311.0,482.9 312.6,485.6 314.1,490.8 315.6,495.1 317.2,498.9 318.7,504.3 320.3,512.2 321.8,520.1 323.3,523.8 324.9,523.6 326.4,521.4 328.0,520.2 329.5,516.1 331.0,506.3 332.6,493.4 334.1,484.1 335.7,483.7 337.2,488.0 338.7,492.0 340.3,491.1 341.8,486.5 343.4,482.0 344.9,479.7 346.4,480.0 348.0,481.5 349.5,483.8 351.1,485.5 352.6,485.4 354.1,483.5 355.7,481.8 357.2,490.2 358.8,505.5 360.3,523.4 361.8,531.6 363.4,533.5 364.9,532.2 366.5,530.7 368.0,528.9 369.5,527.3 371.1,526.5 372.6,525.1 374.2,519.8 375.7,510.2 377.2,501.1 378.8,496.8 380.3,498.5 381.9,504.0 383.4,509.3 384.9,511.9 386.5,511.3 388.0,509.7 389.6,508.5 391.1,508.6 392.6,508.1 394.2,505.1 395.7,497.2 397.3,487.7 398.8,481.3 400.3,479.0 401.9,479.7 403.4,479.8 405.0,480.4 406.5,482.2 408.0,484.2 409.6,484.4 411.1,483.9 412.7,486.2 414.2,494.4 415.7,508.1 417.3,522.3 418.8,531.7 420.4,533.9 421.9,531.7 423.4,528.6 425.0,525.6 426.5,522.7 428.1,520.3 429.6,518.5 431.1,516.6 432.7,514.2 434.2,513.3 435.8,515.2 437.3,520.7 438.8,526.8 440.4,530.4 441.9,531.5 443.5,531.9 445.0,533.6 446.5,535.3 448.1,535.4 449.6,534.0 451.2,532.7 452.7,532.1 454.2,528.3 455.8,519.4 457.3,507.1 458.9,495.9 460.4,487.3 461.9,486.0 463.5,492.8 465.0,508.3 466.6,521.9 468.1,530.1 469.6,532.1 471.2,531.7 472.7,530.2 474.3,527.5 475.8,524.6 477.3,522.4 478.9,521.8 480.4,522.7 482.0,521.9 483.5,516.5 485.0,506.9 486.6,496.4 488.1,487.0 489.7,480.6 491.2,476.9 492.7,476.4 494.3,476.8 495.8,477.8 497.4,478.5 498.9,478.8 500.4,478.5 502.0,479.9 503.5,483.6 505.1,490.3 506.6,497.0 508.1,501.5 509.7,503.1 511.2,504.7 512.8,508.4 514.3,514.1 515.8,520.3 517.4,525.4 518.9,529.2 520.5,529.9 522.0,525.8 523.5,514.1 525.1,500.6 526.6,491.8 528.2,492.6 529.7,498.5 531.2,505.6 532.8,511.9 534.3,517.4 535.9,522.9 537.4,527.4 538.9,527.3 540.5,521.9 542.0,514.6 543.6,510.1 545.1,508.7 546.6,507.1 548.2,504.1 549.7,499.9 551.3,498.7 552.8,503.0 554.3,511.8 555.9,521.4 557.4,527.8 559.0,530.1 560.5,528.9 562.0,526.2 563.6,523.5 565.1,520.4 566.7,515.4 568.2,508.2 569.7,498.9 571.3,489.4 572.8,482.1 574.4,477.5 575.9,476.2 577.4,476.0 579.0,479.4 580.5,488.5 582.1,504.5 583.6,520.4 585.1,531.3 586.7,535.1 588.2,535.7 589.8,534.5 591.3,532.7 592.8,530.2 594.4,526.9 595.9,523.3 597.5,520.6 599.0,518.9 600.5,516.9 602.1,511.4 603.6,503.4 605.2,496.3 606.7,492.3 608.2,489.9 609.8,486.8 611.3,482.8 612.9,479.2 614.4,478.2 615.9,479.8 617.5,483.6 619.0,487.3 620.6,489.7 622.1,490.3 623.6,488.0 625.2,484.0 626.7,481.5 628.3,484.2 629.8,491.6 631.3,500.3 632.9,505.8 634.4,506.7 636.0,502.7 637.5,495.0 639.0,487.0 640.6,481.0 642.1,477.8 643.7,477.0 645.2,477.4 646.7,478.9 648.3,481.5 649.8,485.4 651.4,494.2 652.9,505.3 654.4,517.8 656.0,524.1 657.5,525.0 659.1,522.0 660.6,519.2 662.1,517.7 663.7,516.4 665.2,514.9 666.8,513.4 668.3,511.9 669.8,511.1 671.4,512.5 672.9,516.4 674.5,522.4 676.0,528.5 677.5,533.1 679.1,535.6 680.6,535.2 682.2,532.2 683.7,526.6 685.2,521.0 686.8,516.5 688.3,513.2 689.9,511.0 691.4,509.9 692.9,508.4 694.5,505.0 696.0,499.7 697.6,493.5 699.1,488.2 700.6,484.4 702.2,482.1 703.7,482.3 705.3,484.6 706.8,486.6 708.3,486.2 709.9,485.0 711.4,485.8 713.0,488.9 714.5,492.5 716.0,500.4 717.6,512.1 719.1,525.0 720.7,531.9 722.2,533.1 723.7,531.0 725.3,528.7 726.8,526.2 728.4,523.8 729.9,521.8 731.4,520.1 733.0,516.8 734.5,511.9 736.1,504.4 737.6,494.2 739.1,485.8 740.7,480.1 742.2,479.1 743.8,479.0 745.3,480.7 746.8,483.6 748.4,486.6 749.9,488.7 751.5,492.4 753.0,498.9 754.5,507.4 756.1,515.3 757.6,521.9 759.2,526.8 760.7,530.5 762.2,530.7 763.8,528.5 765.3,520.8 766.9,511.8 768.4,502.3 769.9,500.2 771.5,501.4 773.0,505.0 774.6,504.2 776.1,501.2 777.6,496.0 779.2,491.7 780.7,489.1 782.3,488.0 783.8,486.9 785.3,485.1 786.9,482.9 788.4,482.5 790.0,484.1 791.5,488.4 793.0,494.5 794.6,500.4 796.1,507.0 797.7,514.2 799.2,522.2 800.7,528.4 802.3,531.2 803.8,526.2 805.4,510.6 806.9,491.7 808.4,479.1 810.0,475.8 811.5,476.0 813.1,478.0 814.6,481.8 816.1,488.1 817.7,496.2 819.2,508.1 820.8,520.5 822.3,530.6 823.8,535.0 825.4,536.3 826.9,535.8 828.5,534.8 830.0,534.1 831.5,534.2 833.1,535.2 834.6,536.2 836.2,536.6 837.7,536.4 839.2,535.8 840.8,534.5 842.3,532.6 843.9,529.8 845.4,526.6 846.9,523.1 848.5,517.8 850.0,510.0 851.6,500.7 853.1,492.1 854.6,486.7 856.2,484.8 857.7,484.6 859.3,483.8 860.8,482.3 862.3,482.2 863.9,484.6 865.4,485.9 867.0,484.8 868.5,482.3 870.0,480.9 871.6,481.0 873.1,480.6 874.7,480.9 876.2,484.1 877.7,490.2 879.3,497.7 880.8,502.7 882.4,505.2 883.9,507.6 885.4,512.4 887.0,517.5 888.5,519.4 890.1,516.8 891.6,512.2 893.1,506.7 894.7,500.5 896.2,494.0 897.8,487.5 899.3,482.2 900.8,478.8 902.4,478.0 903.9,478.7 905.5,482.1 907.0,487.7 908.5,495.8 910.1,505.1 911.6,514.5 913.2,522.8 914.7,528.2 916.2,530.4 917.8,529.6 919.3,528.2 920.9,527.5 922.4,527.7 923.9,526.2 925.5,524.1 927.0,522.4 928.6,525.3 930.1,525.0 931.6,521.5 933.2,514.2 934.7,509.5 936.3,511.7 937.8,518.1 939.3,525.8 940.9,528.1 942.4,526.8 944.0,524.4 945.5,517.8 947.0,506.4 948.6,493.1 950.1,485.0 951.7,484.0 953.2,487.0 954.7,490.3 956.3,489.0 957.8,484.9 959.4,482.2 960.9,486.1 962.4,495.7 964.0,508.4 965.5,520.7 967.1,526.3 968.6,525.4 970.1,519.4 971.7,514.1 973.2,510.2 974.8,508.7 976.3,510.2 977.8,516.0 979.4,517.4 980.9,513.3 982.5,501.6 984.0,491.1 985.5,483.9 987.1,484.1 988.6,493.8 990.2,508.8 991.7,522.2 993.2,526.7" fill="none" stroke="#f56f1c" stroke-width="1.1" stroke-linejoin="round"/>
<rect x="1373.5" y="128.8" width="70.9" height="16.2" fill="#ee5451"/>
<text x="1381.3" y="54.1" font-size="10" fill="#d8dae0" textLength="56.6" lengthAdjust="spacingAndGlyphs" stroke="#d8dae0" stroke-width="0.25">480000.0000</text>
<line x1="1373.5" y1="50.5" x2="1377.0" y2="50.5" stroke="#8f929b" stroke-width="1"/>
<text x="1381.3" y="85.3" font-size="10" fill="#d8dae0" textLength="56.6" lengthAdjust="spacingAndGlyphs" stroke="#d8dae0" stroke-width="0.25">400000.0000</text>
<line x1="1373.5" y1="81.5" x2="1377.0" y2="81.5" stroke="#8f929b" stroke-width="1"/>
<text x="1381.3" y="122.6" font-size="10" fill="#d8dae0" textLength="56.6" lengthAdjust="spacingAndGlyphs" stroke="#d8dae0" stroke-width="0.25">320000.0000</text>
<text x="1381.3" y="158.2" font-size="10" fill="#d8dae0" textLength="56.6" lengthAdjust="spacingAndGlyphs" stroke="#d8dae0" stroke-width="0.25">260000.0000</text>
<text x="1381.3" y="186.2" font-size="10" fill="#d8dae0" textLength="56.6" lengthAdjust="spacingAndGlyphs" stroke="#d8dae0" stroke-width="0.25">220000.0000</text>
<line x1="1373.5" y1="182.5" x2="1377.0" y2="182.5" stroke="#8f929b" stroke-width="1"/>
<text x="1381.3" y="220.0" font-size="10" fill="#d8dae0" textLength="56.6" lengthAdjust="spacingAndGlyphs" stroke="#d8dae0" stroke-width="0.25">180000.0000</text>
<text x="1381.3" y="251.2" font-size="10" fill="#d8dae0" textLength="56.6" lengthAdjust="spacingAndGlyphs" stroke="#d8dae0" stroke-width="0.25">150000.0000</text>
<line x1="1373.5" y1="247.5" x2="1377.0" y2="247.5" stroke="#8f929b" stroke-width="1"/>
<text x="1381.3" y="289.4" font-size="10" fill="#d8dae0" textLength="56.6" lengthAdjust="spacingAndGlyphs" stroke="#d8dae0" stroke-width="0.25">120000.0000</text>
<line x1="1373.5" y1="285.5" x2="1377.0" y2="285.5" stroke="#8f929b" stroke-width="1"/>
<text x="1381.3" y="320.2" font-size="10" fill="#d8dae0" textLength="56.6" lengthAdjust="spacingAndGlyphs" stroke="#d8dae0" stroke-width="0.25">100000.0000</text>
<line x1="1373.5" y1="316.5" x2="1377.0" y2="316.5" stroke="#8f929b" stroke-width="1"/>
<text x="1381.3" y="344.9" font-size="10" fill="#d8dae0" textLength="51.1" lengthAdjust="spacingAndGlyphs" stroke="#d8dae0" stroke-width="0.25">86000.0000</text>
<line x1="1373.5" y1="341.5" x2="1377.0" y2="341.5" stroke="#8f929b" stroke-width="1"/>
<text x="1381.3" y="388.0" font-size="10" fill="#d8dae0" stroke="#d8dae0" stroke-width="0.25">0</text>
<line x1="1373.5" y1="383.5" x2="1377.0" y2="383.5" stroke="#8f929b" stroke-width="1"/>
<text x="1381.3" y="416.2" font-size="10" fill="#d8dae0" stroke="#d8dae0" stroke-width="0.25">80.0000</text>
<line x1="1373.5" y1="411.5" x2="1377.0" y2="411.5" stroke="#8f929b" stroke-width="1"/>
<text x="1381.3" y="453.0" font-size="10" fill="#d8dae0" stroke="#d8dae0" stroke-width="0.25">40.0000</text>
<line x1="1373.5" y1="448.5" x2="1377.0" y2="448.5" stroke="#8f929b" stroke-width="1"/>
<text x="1381.3" y="492.8" font-size="10" fill="#d8dae0" stroke="#d8dae0" stroke-width="0.25">80.0000</text>
<line x1="1373.5" y1="488.5" x2="1377.0" y2="488.5" stroke="#8f929b" stroke-width="1"/>
<text x="1381.3" y="542.2" font-size="10" fill="#d8dae0" stroke="#d8dae0" stroke-width="0.25">0.0000</text>
<line x1="1373.5" y1="537.5" x2="1377.0" y2="537.5" stroke="#8f929b" stroke-width="1"/>
<text x="1381.3" y="140.6" font-size="10" fill="#fff" textLength="55.2" lengthAdjust="spacingAndGlyphs" font-weight="bold">287478.1106</text>
<clipPath id="cp"><rect x="5.2" y="540" width="1368.3" height="26"/></clipPath>
<g clip-path="url(#cp)">
<text x="166.5" y="558.8" font-size="10" fill="#d8dae0" text-anchor="middle" stroke="#d8dae0" stroke-width="0.3">Sep</text>
<text x="255.5" y="558.8" font-size="10" fill="#d8dae0" text-anchor="middle" stroke="#d8dae0" stroke-width="0.3">Nov</text>
<text x="334.5" y="558.8" font-size="10" fill="#d8dae0" text-anchor="middle" stroke="#d8dae0" stroke-width="0.3">2018</text>
<text x="425.5" y="558.8" font-size="10" fill="#d8dae0" text-anchor="middle" stroke="#d8dae0" stroke-width="0.3">Mar</text>
<text x="519.5" y="558.8" font-size="10" fill="#d8dae0" text-anchor="middle" stroke="#d8dae0" stroke-width="0.3">May</text>
<text x="612.5" y="558.8" font-size="10" fill="#d8dae0" text-anchor="middle" stroke="#d8dae0" stroke-width="0.3">Jul</text>
<text x="708.5" y="558.8" font-size="10" fill="#d8dae0" text-anchor="middle" stroke="#d8dae0" stroke-width="0.3">Sep</text>
<text x="804.5" y="558.8" font-size="10" fill="#d8dae0" text-anchor="middle" stroke="#d8dae0" stroke-width="0.3">Nov</text>
<text x="896.5" y="558.8" font-size="10" fill="#d8dae0" text-anchor="middle" stroke="#d8dae0" stroke-width="0.3">2019</text>
<text x="988.5" y="558.8" font-size="10" fill="#d8dae0" text-anchor="middle" stroke="#d8dae0" stroke-width="0.3">Mar</text>
<text x="1081.5" y="558.8" font-size="10" fill="#d8dae0" text-anchor="middle" stroke="#d8dae0" stroke-width="0.3">May</text>
<text x="1175.5" y="558.8" font-size="10" fill="#d8dae0" text-anchor="middle" stroke="#d8dae0" stroke-width="0.3">Jul</text>
<text x="1271.5" y="558.8" font-size="10" fill="#d8dae0" text-anchor="middle" stroke="#d8dae0" stroke-width="0.3">Sep</text>
<text x="1365.5" y="558.8" font-size="10" fill="#d8dae0" text-anchor="middle" stroke="#d8dae0" stroke-width="0.3">Nov</text>
</g>
<text x="5.5" y="15.4" font-size="12.5" fill="#35acE4" textLength="35.5" lengthAdjust="spacingAndGlyphs" stroke="#35acE4" stroke-width="0.3">fakhan</text>
<text x="45.2" y="15.4" font-size="12.5" fill="#111" textLength="306.8" lengthAdjust="spacingAndGlyphs" stroke="#111" stroke-width="0.3">published on TradingView.com, March 06, 2019 07:33:25 EST</text>
<text x="5.5" y="31.0" font-size="12.8" fill="#000" textLength="146.5" lengthAdjust="spacingAndGlyphs" font-weight="bold">BITFINEX:LTCUSDLONGS, 1D</text>
<text x="158.4" y="31.0" font-size="12.8" fill="#111" textLength="66.3" lengthAdjust="spacingAndGlyphs" stroke="#111" stroke-width="0.3">287478.1106</text>
<polygon points="227,22.2 236,22.2 231.5,31.8" fill="#b5151b"/>
<text x="239.6" y="31.0" font-size="12.8" fill="#111" textLength="106.7" lengthAdjust="spacingAndGlyphs" stroke="#111" stroke-width="0.3">−4588.9634 (−1.57%)</text>
<text x="352.0" y="31.0" font-size="12.8" fill="#000" textLength="10.3" lengthAdjust="spacingAndGlyphs" font-weight="bold">O:</text>
<text x="364.0" y="31.0" font-size="12.8" fill="#b5151b" textLength="66.0" lengthAdjust="spacingAndGlyphs" stroke="#b5151b" stroke-width="0.3">292067.0740</text>
<text x="434.8" y="31.0" font-size="12.8" fill="#000" textLength="9.5" lengthAdjust="spacingAndGlyphs" font-weight="bold">H:</text>
<text x="446.8" y="31.0" font-size="12.8" fill="#b5151b" textLength="65.0" lengthAdjust="spacingAndGlyphs" stroke="#b5151b" stroke-width="0.3">292069.5669</text>
<text x="516.8" y="31.0" font-size="12.8" fill="#000" textLength="7.4" lengthAdjust="spacingAndGlyphs" font-weight="bold">L:</text>
<text x="526.7" y="31.0" font-size="12.8" fill="#b5151b" textLength="65.3" lengthAdjust="spacingAndGlyphs" stroke="#b5151b" stroke-width="0.3">280120.8717</text>
<text x="597.0" y="31.0" font-size="12.8" fill="#000" textLength="8.6" lengthAdjust="spacingAndGlyphs" font-weight="bold">C:</text>
<text x="608.0" y="31.0" font-size="12.8" fill="#b5151b" textLength="64.2" lengthAdjust="spacingAndGlyphs" stroke="#b5151b" stroke-width="0.3">287478.1106</text>
<text x="5.5" y="586.8" font-size="11.6" fill="#111" textLength="64.8" lengthAdjust="spacingAndGlyphs" stroke="#111" stroke-width="0.12">Created with</text>
<path d="M76 588.6 Q74.3 588.6 74.3 586.6 Q74.3 584 77 583.6 Q77.3 580.5 80.5 580.3 Q82 577 85.5 577 Q89.5 577 90.6 580.8 Q94.6 581.2 94.6 585 Q94.6 588.6 91.5 588.6 Z" fill="#45b4e6"/>
<polyline points="76.5,586.5 81.5,581.8 85.5,586.2 91.5,580.2" fill="none" stroke="#fff" stroke-width="1.5" stroke-linejoin="round" stroke-linecap="round"/>
<text x="95.9" y="586.8" font-size="11.6" fill="#45b4e6" textLength="62.7" lengthAdjust="spacingAndGlyphs" stroke="#45b4e6" stroke-width="0.25">TradingView</text>
</svg>
</body></html>
